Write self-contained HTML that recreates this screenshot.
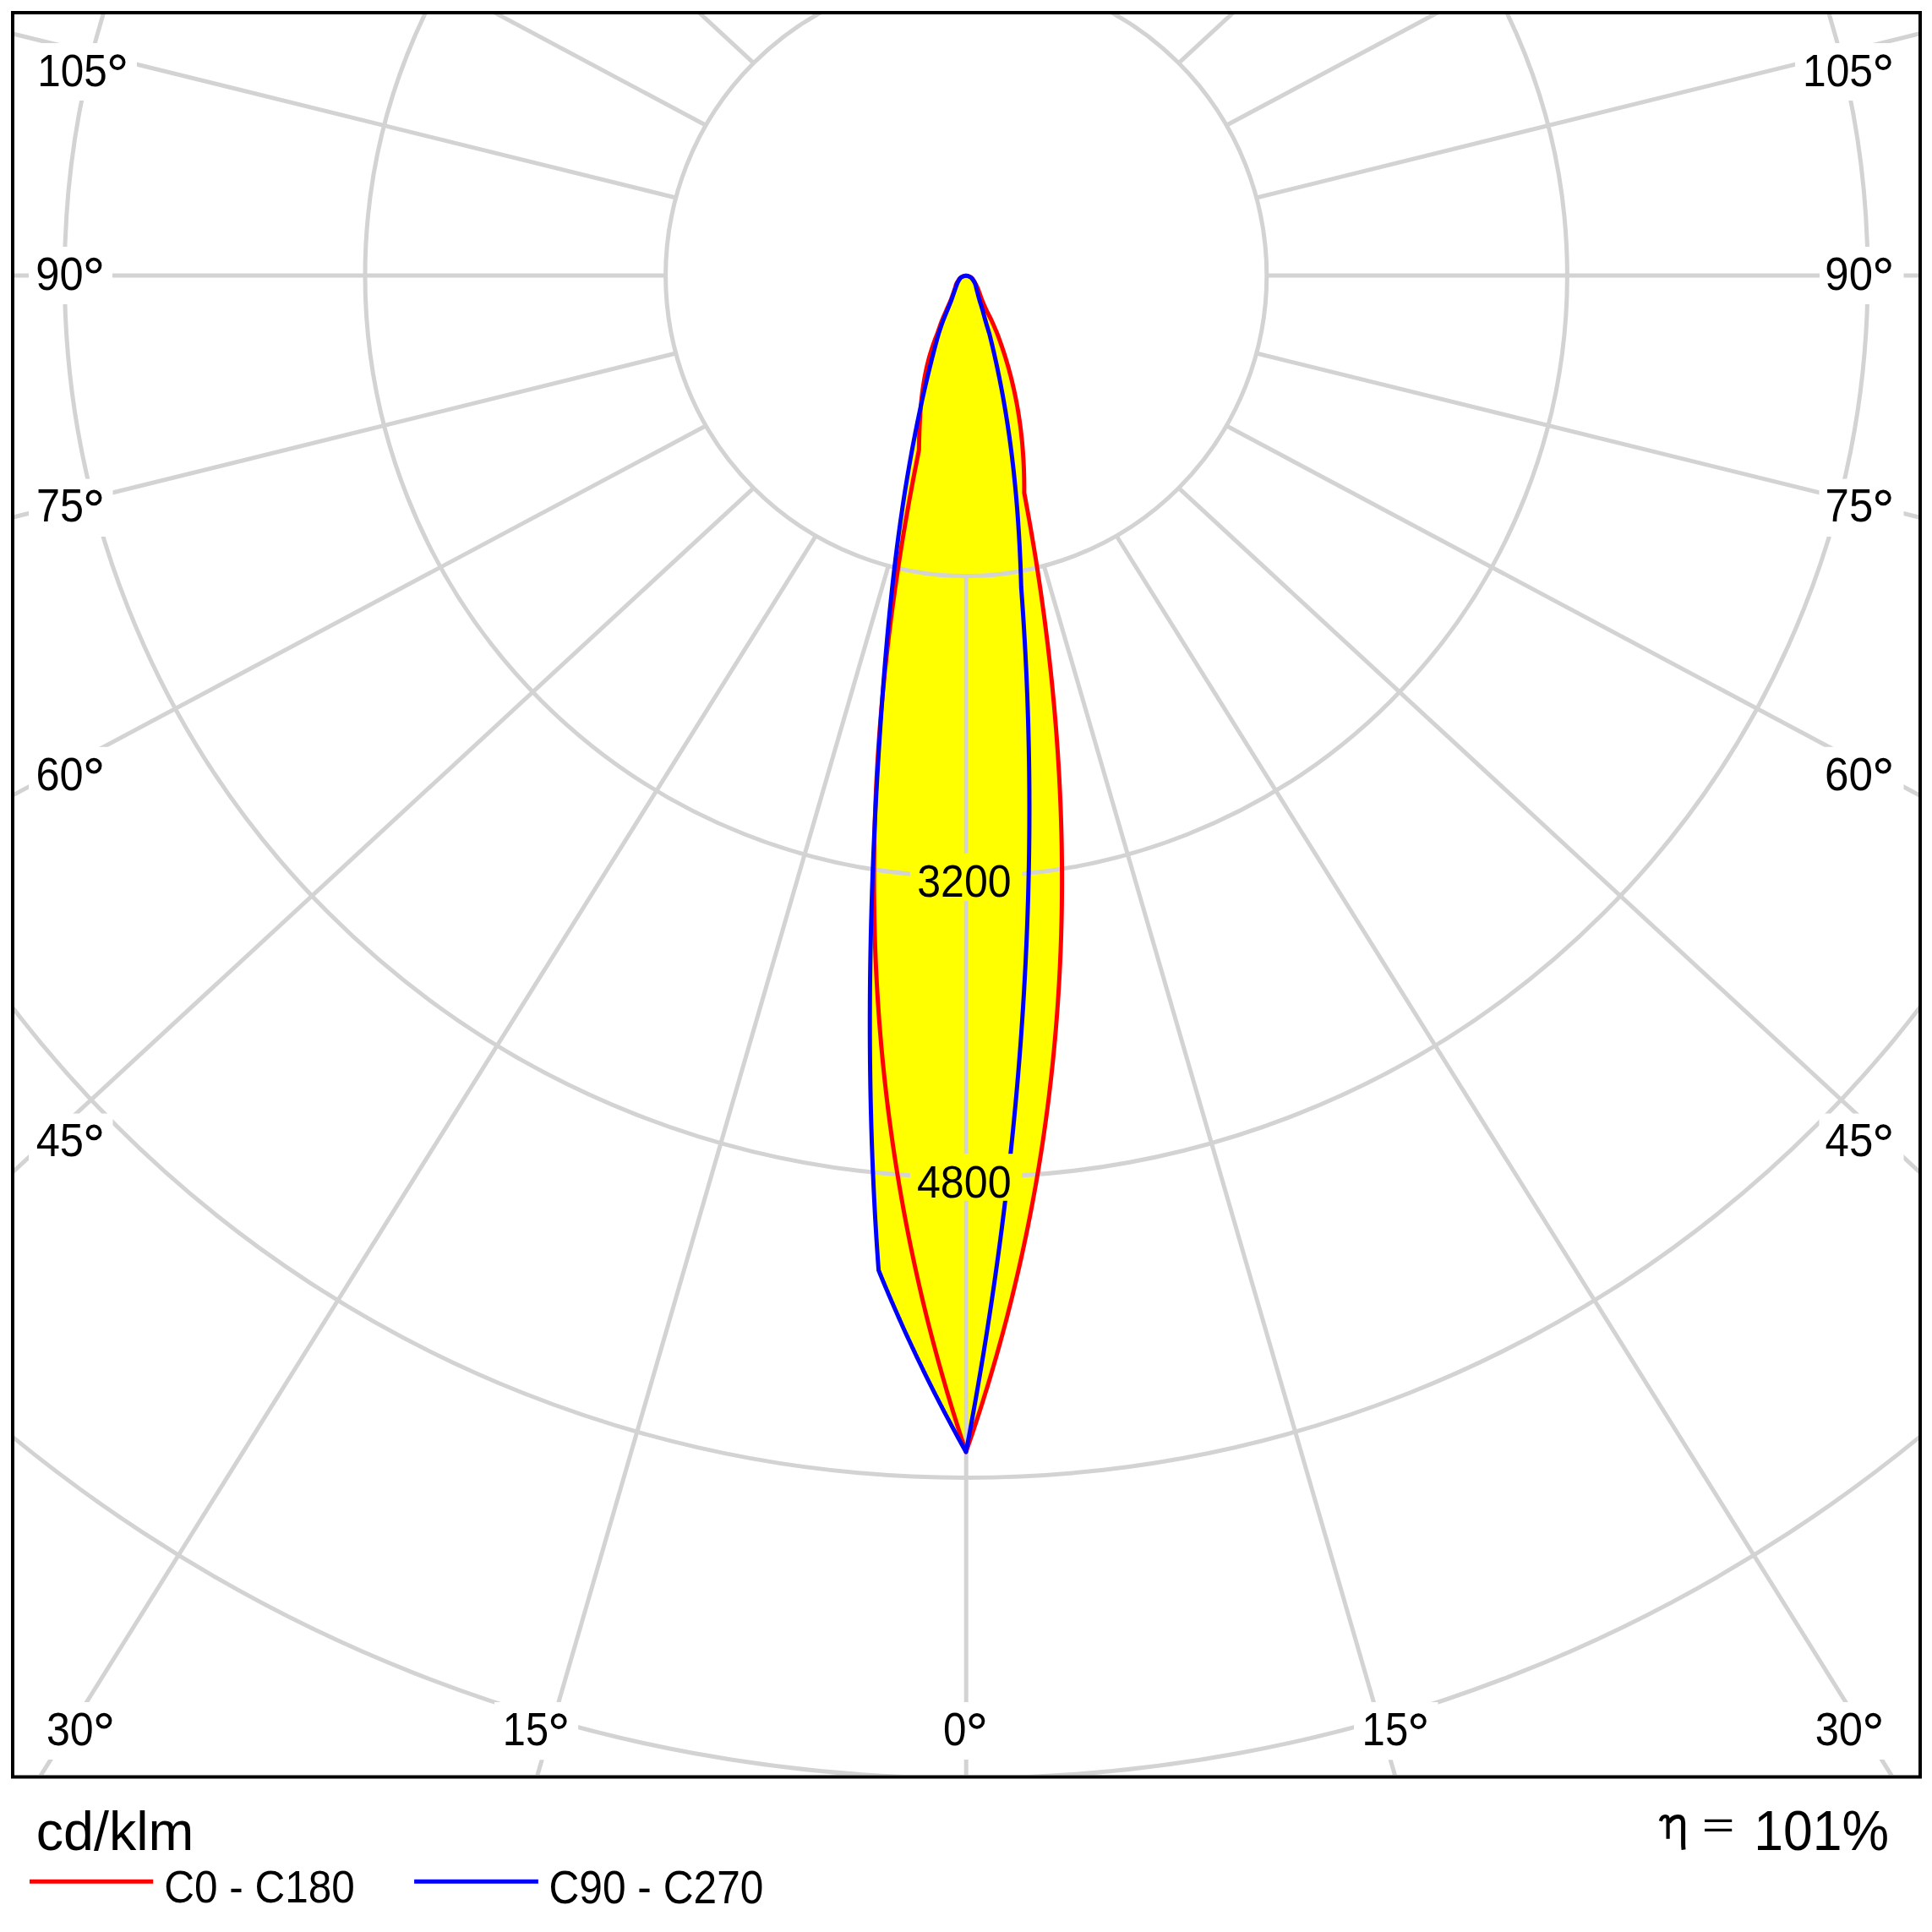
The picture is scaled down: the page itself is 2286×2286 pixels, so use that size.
<!DOCTYPE html>
<html><head><meta charset="utf-8"><style>html,body{margin:0;padding:0;background:#fff}svg{display:block}</style></head>
<body><svg width="2286" height="2286" viewBox="0 0 2286 2286">
<defs>
<clipPath id="plot"><rect x="17" y="17" width="2253" height="2083"/></clipPath>
<mask id="lbl" maskUnits="userSpaceOnUse" x="0" y="0" width="2286" height="2286"><rect x="0" y="0" width="2286" height="2286" fill="#fff"/>
<rect x="34" y="51" width="128" height="68" fill="#000"/>
<rect x="34" y="292" width="99" height="68" fill="#000"/>
<rect x="34" y="566.6" width="99.5" height="68.4" fill="#000"/>
<rect x="34" y="883.8" width="99" height="68" fill="#000"/>
<rect x="34" y="1317.6" width="99.5" height="68" fill="#000"/>
<rect x="2124" y="51" width="128.5" height="68" fill="#000"/>
<rect x="2153" y="292" width="99.5" height="68" fill="#000"/>
<rect x="2152.5" y="566.6" width="100" height="68.4" fill="#000"/>
<rect x="2153" y="883.8" width="99.5" height="68" fill="#000"/>
<rect x="2152.5" y="1317.6" width="100" height="68" fill="#000"/>
<rect x="45" y="2014" width="101" height="68" fill="#000"/>
<rect x="585" y="2014" width="99.2" height="68.3" fill="#000"/>
<rect x="1106" y="2014" width="74" height="68" fill="#000"/>
<rect x="1602" y="2014" width="99.5" height="68.3" fill="#000"/>
<rect x="2140" y="2014" width="101" height="68" fill="#000"/>
<rect x="1076.9" y="1009.7" width="132.6" height="56.3" fill="#000"/>
<rect x="1076.9" y="1365.2" width="132.6" height="55.6" fill="#000"/>
</mask>
</defs>
<rect x="0" y="0" width="2286" height="2286" fill="#fff"/>
<g clip-path="url(#plot)">
<path d="M1143 1718 C1143.47 1716.66 1144.88 1712.63 1145.8 1709.95 C1146.72 1707.27 1147.64 1704.58 1148.55 1701.9 C1149.46 1699.22 1150.37 1696.54 1151.27 1693.86 C1152.17 1691.18 1153.06 1688.49 1153.95 1685.81 C1154.84 1683.13 1155.71 1680.44 1156.59 1677.76 C1157.46 1675.08 1158.34 1672.39 1159.2 1669.71 C1160.06 1667.03 1160.92 1664.34 1161.77 1661.66 C1162.62 1658.98 1163.46 1656.29 1164.3 1653.61 C1165.14 1650.93 1165.97 1648.25 1166.8 1645.57 C1167.63 1642.89 1168.44 1640.2 1169.26 1637.52 C1170.08 1634.84 1170.89 1632.15 1171.69 1629.47 C1172.49 1626.79 1173.28 1624.1 1174.07 1621.42 C1174.86 1618.74 1175.64 1616.05 1176.42 1613.37 C1177.2 1610.69 1177.97 1608 1178.74 1605.32 C1179.51 1602.64 1180.27 1599.96 1181.02 1597.28 C1181.77 1594.6 1182.52 1591.91 1183.26 1589.23 C1184 1586.55 1184.74 1583.86 1185.47 1581.18 C1186.2 1578.5 1186.92 1575.81 1187.64 1573.13 C1188.36 1570.45 1189.07 1567.76 1189.77 1565.08 C1190.47 1562.4 1191.17 1559.72 1191.87 1557.04 C1192.56 1554.36 1193.26 1551.67 1193.94 1548.99 C1194.62 1546.31 1195.3 1543.62 1195.97 1540.94 C1196.64 1538.26 1197.3 1535.57 1197.96 1532.89 C1198.62 1530.21 1199.27 1527.52 1199.92 1524.84 C1200.57 1522.16 1201.2 1519.47 1201.84 1516.79 C1202.47 1514.11 1203.11 1511.43 1203.73 1508.75 C1204.36 1506.07 1204.98 1503.38 1205.59 1500.7 C1206.2 1498.02 1206.81 1495.33 1207.41 1492.65 C1208.01 1489.97 1208.6 1487.28 1209.19 1484.6 C1209.78 1481.92 1210.36 1479.23 1210.94 1476.55 C1211.52 1473.87 1212.09 1471.18 1212.65 1468.5 C1213.22 1465.82 1213.77 1463.14 1214.33 1460.46 C1214.88 1457.78 1215.44 1455.09 1215.98 1452.41 C1216.52 1449.73 1217.06 1447.04 1217.59 1444.36 C1218.12 1441.68 1218.65 1438.99 1219.17 1436.31 C1219.69 1433.63 1220.2 1430.94 1220.71 1428.26 C1221.22 1425.58 1221.72 1422.9 1222.22 1420.22 C1222.72 1417.54 1223.21 1414.85 1223.7 1412.17 C1224.19 1409.49 1224.67 1406.8 1225.14 1404.12 C1225.62 1401.44 1226.09 1398.75 1226.55 1396.07 C1227.01 1393.39 1227.47 1390.7 1227.92 1388.02 C1228.37 1385.34 1228.83 1382.65 1229.27 1379.97 C1229.71 1377.29 1230.14 1374.61 1230.57 1371.93 C1231 1369.25 1231.43 1366.56 1231.85 1363.88 C1232.27 1361.2 1232.68 1358.51 1233.09 1355.83 C1233.5 1353.15 1233.9 1350.46 1234.3 1347.78 C1234.7 1345.1 1235.09 1342.41 1235.47 1339.73 C1235.86 1337.05 1236.23 1334.37 1236.61 1331.69 C1236.98 1329.01 1237.36 1326.32 1237.72 1323.64 C1238.09 1320.96 1238.45 1318.27 1238.8 1315.59 C1239.15 1312.91 1239.5 1310.22 1239.84 1307.54 C1240.18 1304.86 1240.53 1302.17 1240.86 1299.49 C1241.19 1296.81 1241.51 1294.12 1241.83 1291.44 C1242.15 1288.76 1242.47 1286.08 1242.78 1283.4 C1243.09 1280.72 1243.4 1278.03 1243.7 1275.35 C1244 1272.67 1244.29 1269.98 1244.58 1267.3 C1244.87 1264.62 1245.15 1261.93 1245.43 1259.25 C1245.71 1256.57 1245.98 1253.88 1246.25 1251.2 C1246.52 1248.52 1246.77 1245.83 1247.03 1243.15 C1247.29 1240.47 1247.54 1237.79 1247.79 1235.11 C1248.04 1232.43 1248.28 1229.74 1248.51 1227.06 C1248.74 1224.38 1248.98 1221.69 1249.2 1219.01 C1249.42 1216.33 1249.64 1213.64 1249.86 1210.96 C1250.07 1208.28 1250.29 1205.59 1250.49 1202.91 C1250.69 1200.23 1250.89 1197.55 1251.08 1194.87 C1251.27 1192.19 1251.47 1189.5 1251.65 1186.82 C1251.83 1184.14 1252.01 1181.45 1252.18 1178.77 C1252.35 1176.09 1252.53 1173.4 1252.69 1170.72 C1252.85 1168.04 1253.01 1165.35 1253.16 1162.67 C1253.31 1159.99 1253.46 1157.3 1253.6 1154.62 C1253.74 1151.94 1253.88 1149.26 1254.01 1146.58 C1254.14 1143.9 1254.27 1141.21 1254.39 1138.53 C1254.51 1135.85 1254.63 1133.16 1254.74 1130.48 C1254.85 1127.8 1254.96 1125.11 1255.06 1122.43 C1255.16 1119.75 1255.26 1117.06 1255.35 1114.38 C1255.44 1111.7 1255.53 1109.01 1255.61 1106.33 C1255.69 1103.65 1255.76 1100.97 1255.83 1098.29 C1255.9 1095.61 1255.97 1092.92 1256.03 1090.24 C1256.09 1087.56 1256.15 1084.87 1256.2 1082.19 C1256.25 1079.51 1256.3 1076.82 1256.34 1074.14 C1256.38 1071.46 1256.42 1068.77 1256.45 1066.09 C1256.48 1063.41 1256.5 1060.73 1256.52 1058.05 C1256.54 1055.37 1256.56 1052.68 1256.57 1050 C1256.58 1047.32 1256.59 1044.63 1256.59 1041.95 C1256.59 1039.27 1256.59 1036.58 1256.58 1033.9 C1256.57 1031.22 1256.56 1028.53 1256.54 1025.85 C1256.52 1023.17 1256.5 1020.48 1256.47 1017.8 C1256.44 1015.12 1256.41 1012.44 1256.37 1009.76 C1256.33 1007.08 1256.3 1004.39 1256.25 1001.71 C1256.2 999.03 1256.15 996.34 1256.09 993.66 C1256.03 990.98 1255.98 988.29 1255.91 985.61 C1255.84 982.93 1255.77 980.24 1255.69 977.56 C1255.61 974.88 1255.54 972.19 1255.45 969.51 C1255.37 966.83 1255.28 964.15 1255.18 961.47 C1255.09 958.79 1254.99 956.1 1254.88 953.42 C1254.78 950.74 1254.66 948.05 1254.55 945.37 C1254.43 942.69 1254.31 940 1254.19 937.32 C1254.07 934.64 1253.94 931.95 1253.81 929.27 C1253.68 926.59 1253.54 923.91 1253.4 921.23 C1253.26 918.55 1253.11 915.86 1252.96 913.18 C1252.81 910.5 1252.65 907.81 1252.49 905.13 C1252.33 902.45 1252.16 899.76 1251.99 897.08 C1251.82 894.4 1251.65 891.71 1251.47 889.03 C1251.29 886.35 1251.1 883.66 1250.91 880.98 C1250.72 878.3 1250.54 875.62 1250.34 872.94 C1250.14 870.26 1249.94 867.57 1249.73 864.89 C1249.52 862.21 1249.31 859.52 1249.09 856.84 C1248.87 854.16 1248.65 851.47 1248.43 848.79 C1248.21 846.11 1247.97 843.42 1247.74 840.74 C1247.51 838.06 1247.27 835.38 1247.03 832.7 C1246.79 830.02 1246.53 827.33 1246.28 824.65 C1246.03 821.97 1245.77 819.28 1245.51 816.6 C1245.25 813.92 1244.99 811.23 1244.72 808.55 C1244.45 805.87 1244.17 803.18 1243.89 800.5 C1243.61 797.82 1243.33 795.13 1243.04 792.45 C1242.75 789.77 1242.47 787.09 1242.17 784.41 C1241.87 781.73 1241.57 779.04 1241.26 776.36 C1240.95 773.68 1240.65 770.99 1240.34 768.31 C1240.03 765.63 1239.7 762.94 1239.38 760.26 C1239.06 757.58 1238.73 754.89 1238.4 752.21 C1238.07 749.53 1237.73 746.84 1237.39 744.16 C1237.05 741.48 1236.71 738.8 1236.36 736.12 C1236.01 733.44 1235.66 730.75 1235.3 728.07 C1234.94 725.39 1234.58 722.7 1234.21 720.02 C1233.84 717.34 1233.47 714.65 1233.1 711.97 C1232.72 709.29 1232.34 706.6 1231.96 703.92 C1231.58 701.24 1231.19 698.56 1230.8 695.88 C1230.41 693.2 1230.01 690.51 1229.61 687.83 C1229.21 685.15 1228.81 682.46 1228.4 679.78 C1227.99 677.1 1227.58 674.41 1227.16 671.73 C1226.74 669.05 1226.33 666.36 1225.9 663.68 C1225.48 661 1225.04 658.31 1224.61 655.63 C1224.18 652.95 1223.74 650.27 1223.3 647.59 C1222.86 644.91 1222.41 642.22 1221.96 639.54 C1221.51 636.86 1221.06 634.17 1220.6 631.49 C1220.14 628.81 1219.68 626.12 1219.21 623.44 C1218.74 620.76 1218.28 618.07 1217.8 615.39 C1217.32 612.71 1216.84 610.02 1216.36 607.34 C1215.88 604.66 1215.39 601.98 1214.9 599.3 C1214.41 596.62 1213.92 593.93 1213.42 591.25 C1212.92 588.57 1212.15 584.54 1211.9 583.2 C1211.9 581.83 1211.93 577.73 1211.91 575 C1211.89 572.27 1211.86 569.54 1211.81 566.81 C1211.76 564.08 1211.69 561.34 1211.6 558.61 C1211.51 555.88 1211.4 553.15 1211.28 550.42 C1211.15 547.69 1211.01 544.95 1210.85 542.22 C1210.69 539.49 1210.5 536.76 1210.3 534.03 C1210.1 531.3 1209.87 528.56 1209.63 525.83 C1209.39 523.1 1209.12 520.36 1208.84 517.63 C1208.55 514.9 1208.25 512.17 1207.92 509.44 C1207.59 506.71 1207.24 503.97 1206.87 501.24 C1206.5 498.51 1206.1 495.78 1205.68 493.05 C1205.26 490.32 1204.82 487.58 1204.36 484.85 C1203.9 482.12 1203.41 479.39 1202.9 476.66 C1202.39 473.93 1201.86 471.19 1201.3 468.46 C1200.74 465.73 1200.15 463 1199.54 460.27 C1198.93 457.54 1198.31 454.8 1197.65 452.07 C1196.99 449.34 1196.3 446.6 1195.59 443.87 C1194.88 441.14 1194.15 438.41 1193.39 435.68 C1192.63 432.95 1191.84 430.21 1191.02 427.48 C1190.2 424.75 1189.36 422.02 1188.49 419.29 C1187.62 416.56 1186.73 413.82 1185.8 411.09 C1184.87 408.36 1183.91 405.63 1182.93 402.9 C1181.95 400.17 1180.59 396.5 1179.9 394.7 C1179.21 392.9 1179.87 394.6 1178.8 392.1 C1177.73 389.6 1175.42 383.83 1173.5 379.7 C1171.58 375.57 1169.23 371.45 1167.3 367.3 C1165.37 363.15 1163.55 358.95 1161.9 354.8 C1160.25 350.65 1158.6 345.45 1157.4 342.4 C1156.2 339.35 1155.52 338.13 1154.7 336.5 C1153.88 334.87 1153.23 333.77 1152.5 332.6 C1151.77 331.43 1151.12 330.35 1150.3 329.5 C1149.48 328.65 1148.82 328.03 1147.6 327.5 C1146.38 326.97 1144.57 326.3 1143 326.3 C1141.43 326.3 1139.43 326.97 1138.2 327.5 C1136.97 328.03 1136.37 328.65 1135.6 329.5 C1134.83 330.35 1134.28 331.52 1133.6 332.6 C1132.92 333.68 1132.17 334.37 1131.5 336 C1130.83 337.63 1130.67 339.27 1129.6 342.4 C1128.53 345.53 1126.75 350.65 1125.1 354.8 C1123.45 358.95 1121.48 363.15 1119.7 367.3 C1117.92 371.45 1116.02 375.57 1114.4 379.7 C1112.78 383.83 1110.88 389.6 1110 392.1 C1109.12 394.6 1109.78 392.91 1109.1 394.7 C1108.42 396.49 1106.92 400.11 1105.92 402.82 C1104.92 405.53 1103.97 408.24 1103.08 410.95 C1102.18 413.66 1101.35 416.36 1100.55 419.07 C1099.75 421.78 1099.01 424.48 1098.31 427.19 C1097.61 429.9 1096.96 432.61 1096.35 435.32 C1095.74 438.03 1095.17 440.73 1094.64 443.44 C1094.11 446.15 1093.63 448.85 1093.18 451.56 C1092.73 454.27 1092.32 456.98 1091.93 459.69 C1091.55 462.4 1091.19 465.1 1090.87 467.81 C1090.55 470.52 1090.26 473.23 1090 475.94 C1089.74 478.65 1089.5 481.35 1089.29 484.06 C1089.08 486.77 1088.89 489.47 1088.72 492.18 C1088.55 494.89 1088.4 497.6 1088.27 500.31 C1088.14 503.02 1088.02 505.72 1087.92 508.43 C1087.82 511.14 1087.74 513.84 1087.66 516.55 C1087.58 519.26 1087.52 521.97 1087.46 524.68 C1087.4 527.39 1087.33 531.45 1087.3 532.8 C1087.03 534.13 1086.22 538.14 1085.69 540.81 C1085.16 543.48 1084.63 546.15 1084.11 548.82 C1083.58 551.49 1083.06 554.15 1082.54 556.82 C1082.02 559.49 1081.51 562.16 1081 564.83 C1080.49 567.5 1079.99 570.17 1079.49 572.84 C1078.99 575.51 1078.49 578.18 1077.99 580.85 C1077.49 583.52 1077.01 586.19 1076.52 588.86 C1076.03 591.53 1075.56 594.19 1075.08 596.86 C1074.6 599.53 1074.13 602.2 1073.66 604.87 C1073.19 607.54 1072.72 610.21 1072.26 612.88 C1071.8 615.55 1071.34 618.22 1070.88 620.89 C1070.43 623.56 1069.98 626.23 1069.53 628.9 C1069.08 631.57 1068.64 634.24 1068.2 636.91 C1067.76 639.58 1067.33 642.24 1066.9 644.91 C1066.47 647.58 1066.04 650.25 1065.62 652.92 C1065.2 655.59 1064.77 658.26 1064.36 660.93 C1063.94 663.6 1063.54 666.27 1063.13 668.94 C1062.73 671.61 1062.33 674.28 1061.93 676.95 C1061.53 679.62 1061.13 682.28 1060.74 684.95 C1060.35 687.62 1059.97 690.29 1059.59 692.96 C1059.21 695.63 1058.83 698.3 1058.45 700.97 C1058.08 703.64 1057.7 706.31 1057.34 708.98 C1056.97 711.65 1056.62 714.32 1056.26 716.99 C1055.9 719.66 1055.55 722.32 1055.2 724.99 C1054.85 727.66 1054.51 730.33 1054.17 733 C1053.83 735.67 1053.49 738.34 1053.16 741.01 C1052.83 743.68 1052.5 746.35 1052.17 749.02 C1051.85 751.69 1051.53 754.36 1051.21 757.03 C1050.89 759.7 1050.59 762.37 1050.28 765.04 C1049.97 767.71 1049.67 770.37 1049.37 773.04 C1049.07 775.71 1048.78 778.38 1048.49 781.05 C1048.2 783.72 1047.91 786.39 1047.63 789.06 C1047.35 791.73 1047.07 794.4 1046.8 797.07 C1046.53 799.74 1046.26 802.41 1045.99 805.08 C1045.72 807.75 1045.47 810.41 1045.21 813.08 C1044.95 815.75 1044.7 818.42 1044.45 821.09 C1044.2 823.76 1043.96 826.43 1043.72 829.1 C1043.48 831.77 1043.25 834.44 1043.02 837.11 C1042.79 839.78 1042.56 842.45 1042.34 845.12 C1042.12 847.79 1041.9 850.45 1041.69 853.12 C1041.48 855.79 1041.27 858.46 1041.07 861.13 C1040.87 863.8 1040.66 866.47 1040.47 869.14 C1040.28 871.81 1040.09 874.48 1039.9 877.15 C1039.71 879.82 1039.53 882.49 1039.35 885.16 C1039.17 887.83 1039 890.49 1038.83 893.16 C1038.66 895.83 1038.5 898.5 1038.34 901.17 C1038.18 903.84 1038.02 906.51 1037.87 909.18 C1037.72 911.85 1037.57 914.52 1037.43 917.19 C1037.29 919.86 1037.15 922.53 1037.02 925.2 C1036.89 927.87 1036.76 930.54 1036.64 933.21 C1036.52 935.88 1036.39 938.54 1036.28 941.21 C1036.16 943.88 1036.06 946.55 1035.95 949.22 C1035.84 951.89 1035.74 954.56 1035.64 957.23 C1035.54 959.9 1035.46 962.57 1035.37 965.24 C1035.28 967.91 1035.2 970.58 1035.12 973.25 C1035.04 975.92 1034.96 978.58 1034.89 981.25 C1034.82 983.92 1034.76 986.59 1034.7 989.26 C1034.64 991.93 1034.58 994.6 1034.53 997.27 C1034.48 999.94 1034.43 1002.61 1034.39 1005.28 C1034.35 1007.95 1034.31 1010.62 1034.28 1013.29 C1034.25 1015.96 1034.22 1018.62 1034.2 1021.29 C1034.18 1023.96 1034.15 1026.63 1034.14 1029.3 C1034.13 1031.97 1034.12 1034.64 1034.12 1037.31 C1034.12 1039.98 1034.11 1042.65 1034.12 1045.32 C1034.12 1047.99 1034.14 1050.66 1034.15 1053.33 C1034.16 1056 1034.18 1058.67 1034.2 1061.34 C1034.22 1064.01 1034.26 1066.67 1034.29 1069.34 C1034.32 1072.01 1034.36 1074.68 1034.4 1077.35 C1034.44 1080.02 1034.49 1082.69 1034.54 1085.36 C1034.59 1088.03 1034.66 1090.7 1034.72 1093.37 C1034.78 1096.04 1034.85 1098.71 1034.92 1101.38 C1034.99 1104.05 1035.06 1106.71 1035.14 1109.38 C1035.22 1112.05 1035.31 1114.72 1035.4 1117.39 C1035.49 1120.06 1035.59 1122.73 1035.69 1125.4 C1035.79 1128.07 1035.89 1130.74 1036 1133.41 C1036.11 1136.08 1036.23 1138.75 1036.35 1141.42 C1036.47 1144.09 1036.59 1146.75 1036.72 1149.42 C1036.85 1152.09 1036.98 1154.76 1037.12 1157.43 C1037.26 1160.1 1037.41 1162.77 1037.56 1165.44 C1037.71 1168.11 1037.86 1170.78 1038.02 1173.45 C1038.18 1176.12 1038.34 1178.79 1038.51 1181.46 C1038.68 1184.13 1038.85 1186.79 1039.03 1189.46 C1039.21 1192.13 1039.39 1194.8 1039.58 1197.47 C1039.77 1200.14 1039.96 1202.81 1040.16 1205.48 C1040.36 1208.15 1040.56 1210.82 1040.77 1213.49 C1040.98 1216.16 1041.19 1218.83 1041.41 1221.5 C1041.63 1224.17 1041.85 1226.84 1042.08 1229.51 C1042.31 1232.18 1042.54 1234.84 1042.78 1237.51 C1043.02 1240.18 1043.26 1242.85 1043.51 1245.52 C1043.76 1248.19 1044.01 1250.86 1044.27 1253.53 C1044.53 1256.2 1044.79 1258.87 1045.06 1261.54 C1045.33 1264.21 1045.61 1266.88 1045.89 1269.55 C1046.17 1272.22 1046.45 1274.88 1046.74 1277.55 C1047.03 1280.22 1047.32 1282.89 1047.62 1285.56 C1047.92 1288.23 1048.22 1290.9 1048.53 1293.57 C1048.84 1296.24 1049.16 1298.91 1049.48 1301.58 C1049.8 1304.25 1050.12 1306.92 1050.45 1309.59 C1050.78 1312.26 1051.12 1314.92 1051.46 1317.59 C1051.8 1320.26 1052.14 1322.93 1052.49 1325.6 C1052.84 1328.27 1053.2 1330.94 1053.56 1333.61 C1053.92 1336.28 1054.29 1338.95 1054.66 1341.62 C1055.03 1344.29 1055.41 1346.96 1055.79 1349.63 C1056.17 1352.3 1056.56 1354.97 1056.95 1357.64 C1057.34 1360.31 1057.75 1362.97 1058.15 1365.64 C1058.55 1368.31 1058.96 1370.98 1059.37 1373.65 C1059.78 1376.32 1060.21 1378.99 1060.63 1381.66 C1061.06 1384.33 1061.49 1387 1061.92 1389.67 C1062.36 1392.34 1062.8 1395.01 1063.24 1397.68 C1063.68 1400.35 1064.13 1403.01 1064.59 1405.68 C1065.04 1408.35 1065.5 1411.02 1065.97 1413.69 C1066.44 1416.36 1066.91 1419.03 1067.39 1421.7 C1067.87 1424.37 1068.34 1427.04 1068.83 1429.71 C1069.32 1432.38 1069.81 1435.05 1070.31 1437.72 C1070.81 1440.39 1071.31 1443.05 1071.82 1445.72 C1072.33 1448.39 1072.85 1451.06 1073.37 1453.73 C1073.89 1456.4 1074.42 1459.07 1074.95 1461.74 C1075.48 1464.41 1076.01 1467.08 1076.55 1469.75 C1077.09 1472.42 1077.65 1475.09 1078.2 1477.76 C1078.75 1480.43 1079.31 1483.09 1079.87 1485.76 C1080.43 1488.43 1081 1491.1 1081.58 1493.77 C1082.15 1496.44 1082.73 1499.11 1083.32 1501.78 C1083.9 1504.45 1084.49 1507.12 1085.09 1509.79 C1085.69 1512.46 1086.29 1515.13 1086.9 1517.8 C1087.51 1520.47 1088.12 1523.14 1088.74 1525.81 C1089.36 1528.48 1089.98 1531.14 1090.61 1533.81 C1091.24 1536.48 1091.87 1539.15 1092.51 1541.82 C1093.15 1544.49 1093.8 1547.16 1094.45 1549.83 C1095.1 1552.5 1095.76 1555.17 1096.42 1557.84 C1097.08 1560.51 1097.76 1563.18 1098.43 1565.85 C1099.11 1568.52 1099.79 1571.18 1100.47 1573.85 C1101.15 1576.52 1101.84 1579.19 1102.54 1581.86 C1103.24 1584.53 1103.94 1587.2 1104.65 1589.87 C1105.36 1592.54 1106.07 1595.21 1106.79 1597.88 C1107.51 1600.55 1108.23 1603.22 1108.96 1605.89 C1109.69 1608.56 1110.43 1611.22 1111.17 1613.89 C1111.91 1616.56 1112.67 1619.23 1113.42 1621.9 C1114.17 1624.57 1114.93 1627.24 1115.69 1629.91 C1116.45 1632.58 1117.22 1635.25 1118 1637.92 C1118.78 1640.59 1119.56 1643.26 1120.35 1645.93 C1121.14 1648.6 1121.93 1651.27 1122.73 1653.94 C1123.53 1656.61 1124.33 1659.27 1125.14 1661.94 C1125.95 1664.61 1126.77 1667.28 1127.59 1669.95 C1128.41 1672.62 1129.24 1675.29 1130.07 1677.96 C1130.9 1680.63 1131.74 1683.3 1132.59 1685.97 C1133.43 1688.64 1134.28 1691.31 1135.14 1693.98 C1136 1696.65 1136.86 1699.31 1137.73 1701.98 C1138.6 1704.65 1139.48 1707.32 1140.36 1709.99 C1141.24 1712.66 1142.56 1716.66 1143 1718 Z" fill="#ffff00"/>
<path d="M1143 1718 C1143.26 1716.66 1144.02 1712.62 1144.53 1709.94 C1145.04 1707.26 1145.55 1704.58 1146.05 1701.89 C1146.55 1699.21 1147.04 1696.51 1147.54 1693.83 C1148.04 1691.14 1148.54 1688.46 1149.03 1685.78 C1149.52 1683.1 1150.01 1680.4 1150.5 1677.72 C1150.99 1675.04 1151.47 1672.36 1151.95 1669.67 C1152.43 1666.99 1152.91 1664.29 1153.39 1661.61 C1153.87 1658.92 1154.34 1656.24 1154.81 1653.56 C1155.28 1650.88 1155.75 1648.18 1156.22 1645.5 C1156.69 1642.82 1157.15 1640.13 1157.61 1637.45 C1158.07 1634.77 1158.53 1632.08 1158.99 1629.39 C1159.45 1626.71 1159.91 1624.02 1160.36 1621.34 C1160.81 1618.65 1161.26 1615.96 1161.71 1613.28 C1162.16 1610.6 1162.6 1607.91 1163.04 1605.23 C1163.48 1602.55 1163.92 1599.86 1164.36 1597.17 C1164.8 1594.49 1165.23 1591.8 1165.66 1589.12 C1166.09 1586.43 1166.52 1583.74 1166.95 1581.06 C1167.38 1578.38 1167.81 1575.69 1168.23 1573.01 C1168.65 1570.33 1169.06 1567.63 1169.48 1564.95 C1169.9 1562.27 1170.32 1559.59 1170.73 1556.9 C1171.14 1554.22 1171.55 1551.52 1171.96 1548.84 C1172.37 1546.15 1172.77 1543.47 1173.17 1540.79 C1173.57 1538.11 1173.97 1535.41 1174.37 1532.73 C1174.77 1530.05 1175.16 1527.37 1175.55 1524.68 C1175.94 1522 1176.33 1519.3 1176.71 1516.62 C1177.1 1513.93 1177.48 1511.25 1177.86 1508.57 C1178.24 1505.88 1178.62 1503.19 1179 1500.51 C1179.38 1497.83 1179.75 1495.14 1180.12 1492.46 C1180.49 1489.78 1180.87 1487.09 1181.23 1484.4 C1181.6 1481.72 1181.95 1479.03 1182.31 1476.35 C1182.67 1473.66 1183.04 1470.97 1183.39 1468.29 C1183.75 1465.61 1184.09 1462.92 1184.44 1460.24 C1184.79 1457.56 1185.14 1454.87 1185.49 1452.18 C1185.84 1449.5 1186.17 1446.82 1186.51 1444.13 C1186.85 1441.45 1187.18 1438.75 1187.52 1436.07 C1187.86 1433.38 1188.19 1430.7 1188.52 1428.02 C1188.85 1425.34 1189.18 1422.64 1189.5 1419.96 C1189.82 1417.28 1190.14 1414.6 1190.46 1411.91 C1190.78 1409.23 1191.1 1406.53 1191.41 1403.85 C1191.72 1401.16 1192.03 1398.48 1192.34 1395.8 C1192.65 1393.12 1192.95 1390.42 1193.25 1387.74 C1193.55 1385.06 1193.85 1382.38 1194.15 1379.69 C1194.45 1377.01 1194.75 1374.32 1195.04 1371.63 C1195.33 1368.94 1195.62 1366.25 1195.9 1363.57 C1196.19 1360.88 1196.47 1358.2 1196.75 1355.52 C1197.03 1352.84 1197.31 1350.14 1197.59 1347.46 C1197.87 1344.78 1198.14 1342.1 1198.41 1339.41 C1198.68 1336.73 1198.95 1334.03 1199.21 1331.35 C1199.47 1328.66 1199.74 1325.98 1200 1323.3 C1200.26 1320.62 1200.52 1317.92 1200.77 1315.24 C1201.02 1312.56 1201.27 1309.88 1201.52 1307.19 C1201.77 1304.51 1202.02 1301.82 1202.26 1299.13 C1202.5 1296.45 1202.74 1293.76 1202.98 1291.08 C1203.22 1288.39 1203.46 1285.7 1203.69 1283.02 C1203.92 1280.34 1204.14 1277.65 1204.37 1274.97 C1204.6 1272.29 1204.83 1269.6 1205.05 1266.91 C1205.27 1264.23 1205.49 1261.54 1205.7 1258.86 C1205.91 1256.17 1206.13 1253.48 1206.34 1250.8 C1206.55 1248.12 1206.76 1245.43 1206.96 1242.75 C1207.16 1240.07 1207.37 1237.38 1207.57 1234.69 C1207.77 1232.01 1207.97 1229.33 1208.16 1226.64 C1208.35 1223.96 1208.54 1221.26 1208.73 1218.58 C1208.92 1215.89 1209.1 1213.21 1209.28 1210.53 C1209.46 1207.85 1209.64 1205.15 1209.82 1202.47 C1210 1199.79 1210.18 1197.11 1210.35 1194.42 C1210.52 1191.74 1210.68 1189.04 1210.85 1186.36 C1211.01 1183.67 1211.18 1180.99 1211.34 1178.31 C1211.5 1175.62 1211.66 1172.93 1211.81 1170.25 C1211.96 1167.57 1212.11 1164.88 1212.26 1162.2 C1212.41 1159.52 1212.56 1156.83 1212.7 1154.14 C1212.84 1151.46 1212.98 1148.77 1213.12 1146.09 C1213.26 1143.4 1213.4 1140.71 1213.53 1138.03 C1213.66 1135.35 1213.79 1132.66 1213.91 1129.98 C1214.04 1127.3 1214.16 1124.61 1214.28 1121.92 C1214.4 1119.24 1214.52 1116.55 1214.63 1113.87 C1214.75 1111.18 1214.86 1108.49 1214.97 1105.81 C1215.08 1103.12 1215.18 1100.44 1215.28 1097.76 C1215.38 1095.08 1215.48 1092.38 1215.58 1089.7 C1215.68 1087.02 1215.78 1084.34 1215.87 1081.65 C1215.96 1078.97 1216.05 1076.27 1216.13 1073.59 C1216.22 1070.9 1216.3 1068.22 1216.38 1065.54 C1216.46 1062.86 1216.54 1060.16 1216.61 1057.48 C1216.68 1054.8 1216.75 1052.12 1216.82 1049.43 C1216.89 1046.75 1216.96 1044.06 1217.02 1041.37 C1217.08 1038.68 1217.14 1035.99 1217.2 1033.31 C1217.26 1030.62 1217.31 1027.94 1217.36 1025.26 C1217.41 1022.58 1217.46 1019.88 1217.5 1017.2 C1217.54 1014.52 1217.58 1011.84 1217.62 1009.15 C1217.66 1006.46 1217.7 1003.78 1217.73 1001.09 C1217.76 998.4 1217.79 995.72 1217.82 993.04 C1217.85 990.36 1217.87 987.66 1217.89 984.98 C1217.91 982.3 1217.93 979.62 1217.95 976.93 C1217.97 974.24 1217.97 971.55 1217.98 968.87 C1217.99 966.19 1218 963.51 1218 960.82 C1218 958.13 1218 955.44 1218 952.76 C1218 950.08 1217.99 947.39 1217.98 944.71 C1217.97 942.03 1217.97 939.34 1217.95 936.65 C1217.93 933.96 1217.91 931.29 1217.89 928.6 C1217.87 925.91 1217.85 923.22 1217.82 920.54 C1217.79 917.86 1217.76 915.17 1217.73 912.49 C1217.7 909.81 1217.66 907.12 1217.62 904.43 C1217.58 901.74 1217.55 899.06 1217.5 896.38 C1217.45 893.7 1217.4 891.01 1217.35 888.32 C1217.3 885.63 1217.25 882.95 1217.19 880.27 C1217.13 877.59 1217.07 874.89 1217.01 872.21 C1216.95 869.53 1216.88 866.85 1216.81 864.16 C1216.74 861.47 1216.67 858.79 1216.59 856.1 C1216.51 853.41 1216.43 850.73 1216.35 848.05 C1216.27 845.37 1216.19 842.67 1216.1 839.99 C1216.01 837.31 1215.91 834.62 1215.82 831.94 C1215.72 829.26 1215.63 826.57 1215.53 823.88 C1215.43 821.19 1215.33 818.52 1215.22 815.83 C1215.11 813.14 1215 810.45 1214.89 807.77 C1214.78 805.09 1214.66 802.4 1214.54 799.72 C1214.42 797.04 1214.31 794.35 1214.18 791.66 C1214.06 788.97 1213.92 786.3 1213.79 783.61 C1213.66 780.92 1213.53 778.23 1213.39 775.55 C1213.25 772.87 1213.12 770.18 1212.97 767.5 C1212.83 764.82 1212.67 762.12 1212.52 759.44 C1212.37 756.76 1212.22 754.08 1212.06 751.39 C1211.9 748.7 1211.74 746.02 1211.58 743.33 C1211.42 740.64 1211.26 737.96 1211.09 735.28 C1210.92 732.6 1210.75 729.9 1210.57 727.22 C1210.39 724.54 1210.21 721.86 1210.03 719.17 C1209.85 716.48 1209.67 713.8 1209.48 711.11 C1209.29 708.42 1209.1 705.74 1208.9 703.06 C1208.7 700.38 1208.4 696.34 1208.3 695 C1208.26 693.65 1208.15 689.59 1208.07 686.88 C1207.99 684.17 1207.9 681.48 1207.81 678.77 C1207.72 676.06 1207.62 673.36 1207.51 670.65 C1207.4 667.94 1207.3 665.25 1207.18 662.54 C1207.06 659.83 1206.94 657.13 1206.81 654.42 C1206.68 651.71 1206.55 649 1206.41 646.3 C1206.27 643.6 1206.12 640.89 1205.97 638.19 C1205.82 635.49 1205.65 632.78 1205.49 630.07 C1205.33 627.36 1205.16 624.66 1204.98 621.95 C1204.8 619.25 1204.61 616.55 1204.42 613.84 C1204.23 611.13 1204.03 608.43 1203.83 605.72 C1203.62 603.01 1203.41 600.32 1203.19 597.61 C1202.97 594.9 1202.74 592.2 1202.51 589.49 C1202.28 586.78 1202.03 584.08 1201.78 581.37 C1201.53 578.66 1201.28 575.97 1201.01 573.26 C1200.74 570.55 1200.47 567.85 1200.19 565.14 C1199.91 562.43 1199.62 559.73 1199.33 557.02 C1199.03 554.31 1198.73 551.62 1198.42 548.91 C1198.11 546.2 1197.78 543.5 1197.45 540.79 C1197.12 538.08 1196.79 535.38 1196.44 532.68 C1196.1 529.97 1195.74 527.27 1195.38 524.56 C1195.02 521.85 1194.65 519.15 1194.27 516.44 C1193.89 513.74 1193.5 511.03 1193.1 508.33 C1192.7 505.62 1192.3 502.92 1191.88 500.21 C1191.46 497.5 1191.03 494.79 1190.6 492.09 C1190.16 489.38 1189.72 486.69 1189.27 483.98 C1188.82 481.28 1188.35 478.56 1187.88 475.86 C1187.41 473.16 1186.92 470.45 1186.43 467.75 C1185.94 465.05 1185.43 462.34 1184.92 459.63 C1184.41 456.92 1183.88 454.21 1183.35 451.51 C1182.82 448.81 1182.27 446.1 1181.72 443.4 C1181.17 440.69 1180.6 437.99 1180.03 435.28 C1179.46 432.57 1178.88 429.87 1178.28 427.16 C1177.68 424.46 1177.08 421.75 1176.46 419.05 C1175.84 416.35 1175.21 413.63 1174.57 410.93 C1173.93 408.23 1173.28 405.52 1172.62 402.82 C1171.96 400.12 1171.07 396.49 1170.6 394.7 C1170.13 392.91 1170.55 394.6 1169.8 392.1 C1169.05 389.6 1167.28 383.83 1166.1 379.7 C1164.92 375.57 1163.9 371.45 1162.7 367.3 C1161.5 363.15 1160.08 358.95 1158.9 354.8 C1157.72 350.65 1156.43 345.53 1155.6 342.4 C1154.77 339.27 1154.48 337.63 1153.9 336 C1153.32 334.37 1152.73 333.68 1152.1 332.6 C1151.47 331.52 1150.85 330.35 1150.1 329.5 C1149.35 328.65 1148.78 328.03 1147.6 327.5 C1146.42 326.97 1144.53 326.3 1143 326.3 C1141.47 326.3 1139.58 326.97 1138.4 327.5 C1137.22 328.03 1136.63 328.65 1135.9 329.5 C1135.17 330.35 1134.58 331.52 1134 332.6 C1133.42 333.68 1133.05 334.37 1132.4 336 C1131.75 337.63 1131.2 339.27 1130.1 342.4 C1129 345.53 1127.35 350.65 1125.8 354.8 C1124.25 358.95 1122.47 363.15 1120.8 367.3 C1119.13 371.45 1117.35 375.57 1115.8 379.7 C1114.25 383.83 1112.37 389.6 1111.5 392.1 C1110.63 394.6 1111.12 392.93 1110.6 394.7 C1110.08 396.47 1109.12 400.05 1108.39 402.73 C1107.67 405.41 1106.95 408.08 1106.25 410.76 C1105.55 413.44 1104.85 416.11 1104.16 418.79 C1103.47 421.47 1102.78 424.14 1102.11 426.82 C1101.43 429.5 1100.77 432.18 1100.11 434.86 C1099.45 437.54 1098.81 440.21 1098.16 442.89 C1097.52 445.57 1096.87 448.24 1096.24 450.92 C1095.61 453.6 1094.98 456.27 1094.37 458.95 C1093.75 461.63 1093.15 464.3 1092.55 466.98 C1091.95 469.66 1091.35 472.33 1090.76 475.01 C1090.17 477.69 1089.59 480.36 1089.02 483.04 C1088.45 485.72 1087.88 488.39 1087.32 491.07 C1086.76 493.75 1086.21 496.43 1085.66 499.11 C1085.11 501.79 1084.57 504.46 1084.03 507.14 C1083.49 509.82 1082.97 512.49 1082.45 515.17 C1081.93 517.85 1081.41 520.52 1080.9 523.2 C1080.39 525.88 1079.89 528.55 1079.39 531.23 C1078.89 533.91 1078.4 536.58 1077.92 539.26 C1077.44 541.94 1076.96 544.61 1076.49 547.29 C1076.02 549.97 1075.55 552.64 1075.09 555.32 C1074.63 558 1074.17 560.67 1073.72 563.35 C1073.27 566.03 1072.83 568.71 1072.39 571.39 C1071.95 574.07 1071.52 576.74 1071.09 579.42 C1070.66 582.1 1070.24 584.77 1069.82 587.45 C1069.4 590.13 1068.99 592.8 1068.59 595.48 C1068.18 598.16 1067.79 600.83 1067.39 603.51 C1067 606.19 1066.61 608.86 1066.22 611.54 C1065.84 614.22 1065.45 616.89 1065.08 619.57 C1064.7 622.25 1064.34 624.92 1063.97 627.6 C1063.61 630.28 1063.25 632.95 1062.89 635.63 C1062.53 638.31 1062.18 640.99 1061.83 643.67 C1061.48 646.35 1061.14 649.02 1060.8 651.7 C1060.46 654.38 1060.13 657.05 1059.8 659.73 C1059.47 662.41 1059.15 665.08 1058.83 667.76 C1058.51 670.44 1058.19 673.11 1057.88 675.79 C1057.57 678.47 1057.26 681.14 1056.96 683.82 C1056.66 686.5 1056.36 689.17 1056.06 691.85 C1055.76 694.53 1055.48 697.2 1055.19 699.88 C1054.9 702.56 1054.61 705.24 1054.33 707.92 C1054.05 710.6 1053.77 713.27 1053.5 715.95 C1053.23 718.63 1052.95 721.3 1052.69 723.98 C1052.43 726.66 1052.17 729.33 1051.91 732.01 C1051.65 734.69 1051.39 737.36 1051.14 740.04 C1050.89 742.72 1050.64 745.39 1050.39 748.07 C1050.14 750.75 1049.9 753.42 1049.66 756.1 C1049.42 758.78 1049.18 761.45 1048.95 764.13 C1048.72 766.81 1048.49 769.48 1048.26 772.16 C1048.03 774.84 1047.8 777.52 1047.58 780.2 C1047.36 782.88 1047.14 785.55 1046.92 788.23 C1046.7 790.91 1046.49 793.58 1046.28 796.26 C1046.07 798.94 1045.86 801.61 1045.65 804.29 C1045.44 806.97 1045.24 809.64 1045.04 812.32 C1044.84 815 1044.64 817.67 1044.44 820.35 C1044.24 823.03 1044.04 825.7 1043.85 828.38 C1043.65 831.06 1043.46 833.73 1043.27 836.41 C1043.08 839.09 1042.89 841.76 1042.71 844.44 C1042.53 847.12 1042.34 849.8 1042.16 852.48 C1041.98 855.16 1041.79 857.83 1041.61 860.51 C1041.43 863.19 1041.25 865.86 1041.08 868.54 C1040.9 871.22 1040.73 873.89 1040.56 876.57 C1040.39 879.25 1040.22 881.92 1040.05 884.6 C1039.88 887.28 1039.71 889.95 1039.55 892.63 C1039.38 895.31 1039.22 897.98 1039.06 900.66 C1038.9 903.34 1038.74 906.01 1038.58 908.69 C1038.42 911.37 1038.26 914.05 1038.11 916.73 C1037.95 919.41 1037.8 922.08 1037.65 924.76 C1037.5 927.44 1037.35 930.11 1037.2 932.79 C1037.05 935.47 1036.91 938.14 1036.77 940.82 C1036.63 943.5 1036.48 946.17 1036.34 948.85 C1036.2 951.53 1036.07 954.2 1035.93 956.88 C1035.8 959.56 1035.66 962.23 1035.53 964.91 C1035.4 967.59 1035.27 970.26 1035.14 972.94 C1035.01 975.62 1034.88 978.29 1034.76 980.97 C1034.63 983.65 1034.51 986.33 1034.39 989.01 C1034.27 991.69 1034.16 994.36 1034.04 997.04 C1033.92 999.72 1033.8 1002.39 1033.69 1005.07 C1033.58 1007.75 1033.47 1010.42 1033.36 1013.1 C1033.25 1015.78 1033.14 1018.45 1033.04 1021.13 C1032.93 1023.81 1032.83 1026.48 1032.73 1029.16 C1032.63 1031.84 1032.54 1034.51 1032.44 1037.19 C1032.34 1039.87 1032.24 1042.54 1032.15 1045.22 C1032.06 1047.9 1031.97 1050.58 1031.88 1053.26 C1031.79 1055.94 1031.71 1058.61 1031.63 1061.29 C1031.55 1063.97 1031.46 1066.64 1031.38 1069.32 C1031.3 1072 1031.23 1074.67 1031.15 1077.35 C1031.08 1080.03 1031 1082.7 1030.93 1085.38 C1030.86 1088.06 1030.79 1090.73 1030.72 1093.41 C1030.65 1096.09 1030.59 1098.76 1030.53 1101.44 C1030.47 1104.12 1030.41 1106.79 1030.35 1109.47 C1030.29 1112.15 1030.23 1114.82 1030.18 1117.5 C1030.13 1120.18 1030.08 1122.86 1030.03 1125.54 C1029.98 1128.22 1029.94 1130.89 1029.89 1133.57 C1029.85 1136.25 1029.8 1138.92 1029.76 1141.6 C1029.72 1144.28 1029.69 1146.95 1029.65 1149.63 C1029.62 1152.31 1029.58 1154.98 1029.55 1157.66 C1029.52 1160.34 1029.49 1163.01 1029.46 1165.69 C1029.43 1168.37 1029.41 1171.04 1029.39 1173.72 C1029.37 1176.4 1029.35 1179.07 1029.33 1181.75 C1029.31 1184.43 1029.3 1187.1 1029.29 1189.78 C1029.28 1192.46 1029.27 1195.14 1029.26 1197.82 C1029.25 1200.5 1029.24 1203.17 1029.24 1205.85 C1029.24 1208.53 1029.24 1211.2 1029.24 1213.88 C1029.24 1216.56 1029.24 1219.23 1029.25 1221.91 C1029.26 1224.59 1029.27 1227.26 1029.28 1229.94 C1029.29 1232.62 1029.3 1235.29 1029.32 1237.97 C1029.34 1240.65 1029.36 1243.32 1029.38 1246 C1029.4 1248.68 1029.42 1251.35 1029.45 1254.03 C1029.48 1256.71 1029.51 1259.39 1029.54 1262.07 C1029.57 1264.75 1029.6 1267.42 1029.64 1270.1 C1029.68 1272.78 1029.72 1275.45 1029.76 1278.13 C1029.8 1280.81 1029.84 1283.48 1029.89 1286.16 C1029.94 1288.84 1029.99 1291.51 1030.04 1294.19 C1030.09 1296.87 1030.14 1299.54 1030.2 1302.22 C1030.26 1304.9 1030.32 1307.57 1030.38 1310.25 C1030.44 1312.93 1030.51 1315.6 1030.58 1318.28 C1030.65 1320.96 1030.72 1323.63 1030.79 1326.31 C1030.86 1328.99 1030.93 1331.67 1031.01 1334.35 C1031.09 1337.03 1031.18 1339.7 1031.26 1342.38 C1031.34 1345.06 1031.42 1347.73 1031.51 1350.41 C1031.6 1353.09 1031.69 1355.76 1031.79 1358.44 C1031.88 1361.12 1031.98 1363.79 1032.08 1366.47 C1032.18 1369.15 1032.29 1371.82 1032.39 1374.5 C1032.5 1377.18 1032.6 1379.85 1032.71 1382.53 C1032.82 1385.21 1032.93 1387.88 1033.05 1390.56 C1033.17 1393.24 1033.29 1395.91 1033.41 1398.59 C1033.53 1401.27 1033.65 1403.95 1033.78 1406.63 C1033.91 1409.31 1034.04 1411.98 1034.17 1414.66 C1034.3 1417.34 1034.44 1420.01 1034.58 1422.69 C1034.72 1425.37 1034.86 1428.04 1035 1430.72 C1035.14 1433.4 1035.29 1436.07 1035.44 1438.75 C1035.59 1441.43 1035.74 1444.1 1035.9 1446.78 C1036.06 1449.46 1036.22 1452.13 1036.38 1454.81 C1036.54 1457.49 1036.7 1460.16 1036.87 1462.84 C1037.04 1465.52 1037.21 1468.2 1037.38 1470.88 C1037.55 1473.56 1037.73 1476.23 1037.91 1478.91 C1038.09 1481.59 1038.27 1484.26 1038.45 1486.94 C1038.63 1489.62 1038.83 1492.29 1039.02 1494.97 C1039.21 1497.65 1039.5 1501.66 1039.6 1503 C1040.16 1504.38 1041.85 1508.51 1042.98 1511.27 C1044.12 1514.03 1045.26 1516.78 1046.41 1519.54 C1047.56 1522.3 1048.72 1525.05 1049.89 1527.81 C1051.06 1530.57 1052.23 1533.32 1053.41 1536.08 C1054.59 1538.84 1055.78 1541.59 1056.98 1544.35 C1058.18 1547.11 1059.38 1549.86 1060.59 1552.62 C1061.8 1555.38 1063.02 1558.12 1064.25 1560.88 C1065.48 1563.64 1066.72 1566.39 1067.96 1569.15 C1069.2 1571.91 1070.45 1574.66 1071.71 1577.42 C1072.97 1580.18 1074.24 1582.93 1075.51 1585.69 C1076.78 1588.45 1078.07 1591.2 1079.36 1593.96 C1080.65 1596.72 1081.95 1599.47 1083.26 1602.23 C1084.57 1604.99 1085.89 1607.74 1087.21 1610.5 C1088.53 1613.26 1089.86 1616.01 1091.2 1618.77 C1092.54 1621.53 1093.88 1624.28 1095.24 1627.04 C1096.6 1629.8 1097.97 1632.55 1099.34 1635.31 C1100.71 1638.07 1102.09 1640.82 1103.48 1643.58 C1104.87 1646.34 1106.27 1649.09 1107.67 1651.85 C1109.08 1654.61 1110.49 1657.36 1111.91 1660.12 C1113.33 1662.88 1114.76 1665.62 1116.2 1668.38 C1117.64 1671.14 1119.09 1673.89 1120.54 1676.65 C1121.99 1679.41 1123.46 1682.16 1124.93 1684.92 C1126.4 1687.68 1127.88 1690.43 1129.37 1693.19 C1130.86 1695.95 1132.35 1698.7 1133.86 1701.46 C1135.37 1704.22 1136.89 1706.97 1138.41 1709.73 C1139.93 1712.49 1142.24 1716.62 1143 1718 Z" fill="#ffff00"/>
<g mask="url(#lbl)">
<g stroke="#d3d3d3" stroke-width="5" fill="none">
<circle cx="1143.2" cy="326" r="355.6"/>
<circle cx="1143.2" cy="326" r="711.2"/>
<circle cx="1143.2" cy="326" r="1066.8"/>
<circle cx="1143.2" cy="326" r="1422.4"/>
<circle cx="1143.2" cy="326" r="1778"/>
<line x1="1143.2" y1="681.6" x2="1143.2" y2="4681.6"/>
<line x1="1051.16" y1="669.48" x2="-63.6" y2="4511.01"/>
<line x1="1235.24" y1="669.48" x2="2350" y2="4511.01"/>
<line x1="965.4" y1="633.96" x2="-1155.26" y2="4025.54"/>
<line x1="1321" y1="633.96" x2="3441.66" y2="4025.54"/>
<line x1="891.75" y1="577.45" x2="-2047.04" y2="3291.02"/>
<line x1="1394.65" y1="577.45" x2="4333.44" y2="3291.02"/>
<line x1="835.24" y1="503.8" x2="-2694.51" y2="2385.52"/>
<line x1="1451.16" y1="503.8" x2="4980.91" y2="2385.52"/>
<line x1="799.72" y1="418.04" x2="-3083.2" y2="1378.72"/>
<line x1="1486.68" y1="418.04" x2="5369.6" y2="1378.72"/>
<line x1="787.6" y1="326" x2="-3212.4" y2="326"/>
<line x1="1498.8" y1="326" x2="5498.8" y2="326"/>
<line x1="799.72" y1="233.96" x2="-3083.2" y2="-726.72"/>
<line x1="1486.68" y1="233.96" x2="5369.6" y2="-726.72"/>
<line x1="835.24" y1="148.2" x2="-2694.51" y2="-1733.52"/>
<line x1="1451.16" y1="148.2" x2="4980.91" y2="-1733.52"/>
<line x1="891.75" y1="74.55" x2="-2047.04" y2="-2639.02"/>
<line x1="1394.65" y1="74.55" x2="4333.44" y2="-2639.02"/>
</g>
<path d="M1143 1718 C1143.47 1716.66 1144.88 1712.63 1145.8 1709.95 C1146.72 1707.27 1147.64 1704.58 1148.55 1701.9 C1149.46 1699.22 1150.37 1696.54 1151.27 1693.86 C1152.17 1691.18 1153.06 1688.49 1153.95 1685.81 C1154.84 1683.13 1155.71 1680.44 1156.59 1677.76 C1157.46 1675.08 1158.34 1672.39 1159.2 1669.71 C1160.06 1667.03 1160.92 1664.34 1161.77 1661.66 C1162.62 1658.98 1163.46 1656.29 1164.3 1653.61 C1165.14 1650.93 1165.97 1648.25 1166.8 1645.57 C1167.63 1642.89 1168.44 1640.2 1169.26 1637.52 C1170.08 1634.84 1170.89 1632.15 1171.69 1629.47 C1172.49 1626.79 1173.28 1624.1 1174.07 1621.42 C1174.86 1618.74 1175.64 1616.05 1176.42 1613.37 C1177.2 1610.69 1177.97 1608 1178.74 1605.32 C1179.51 1602.64 1180.27 1599.96 1181.02 1597.28 C1181.77 1594.6 1182.52 1591.91 1183.26 1589.23 C1184 1586.55 1184.74 1583.86 1185.47 1581.18 C1186.2 1578.5 1186.92 1575.81 1187.64 1573.13 C1188.36 1570.45 1189.07 1567.76 1189.77 1565.08 C1190.47 1562.4 1191.17 1559.72 1191.87 1557.04 C1192.56 1554.36 1193.26 1551.67 1193.94 1548.99 C1194.62 1546.31 1195.3 1543.62 1195.97 1540.94 C1196.64 1538.26 1197.3 1535.57 1197.96 1532.89 C1198.62 1530.21 1199.27 1527.52 1199.92 1524.84 C1200.57 1522.16 1201.2 1519.47 1201.84 1516.79 C1202.47 1514.11 1203.11 1511.43 1203.73 1508.75 C1204.36 1506.07 1204.98 1503.38 1205.59 1500.7 C1206.2 1498.02 1206.81 1495.33 1207.41 1492.65 C1208.01 1489.97 1208.6 1487.28 1209.19 1484.6 C1209.78 1481.92 1210.36 1479.23 1210.94 1476.55 C1211.52 1473.87 1212.09 1471.18 1212.65 1468.5 C1213.22 1465.82 1213.77 1463.14 1214.33 1460.46 C1214.88 1457.78 1215.44 1455.09 1215.98 1452.41 C1216.52 1449.73 1217.06 1447.04 1217.59 1444.36 C1218.12 1441.68 1218.65 1438.99 1219.17 1436.31 C1219.69 1433.63 1220.2 1430.94 1220.71 1428.26 C1221.22 1425.58 1221.72 1422.9 1222.22 1420.22 C1222.72 1417.54 1223.21 1414.85 1223.7 1412.17 C1224.19 1409.49 1224.67 1406.8 1225.14 1404.12 C1225.62 1401.44 1226.09 1398.75 1226.55 1396.07 C1227.01 1393.39 1227.47 1390.7 1227.92 1388.02 C1228.37 1385.34 1228.83 1382.65 1229.27 1379.97 C1229.71 1377.29 1230.14 1374.61 1230.57 1371.93 C1231 1369.25 1231.43 1366.56 1231.85 1363.88 C1232.27 1361.2 1232.68 1358.51 1233.09 1355.83 C1233.5 1353.15 1233.9 1350.46 1234.3 1347.78 C1234.7 1345.1 1235.09 1342.41 1235.47 1339.73 C1235.86 1337.05 1236.23 1334.37 1236.61 1331.69 C1236.98 1329.01 1237.36 1326.32 1237.72 1323.64 C1238.09 1320.96 1238.45 1318.27 1238.8 1315.59 C1239.15 1312.91 1239.5 1310.22 1239.84 1307.54 C1240.18 1304.86 1240.53 1302.17 1240.86 1299.49 C1241.19 1296.81 1241.51 1294.12 1241.83 1291.44 C1242.15 1288.76 1242.47 1286.08 1242.78 1283.4 C1243.09 1280.72 1243.4 1278.03 1243.7 1275.35 C1244 1272.67 1244.29 1269.98 1244.58 1267.3 C1244.87 1264.62 1245.15 1261.93 1245.43 1259.25 C1245.71 1256.57 1245.98 1253.88 1246.25 1251.2 C1246.52 1248.52 1246.77 1245.83 1247.03 1243.15 C1247.29 1240.47 1247.54 1237.79 1247.79 1235.11 C1248.04 1232.43 1248.28 1229.74 1248.51 1227.06 C1248.74 1224.38 1248.98 1221.69 1249.2 1219.01 C1249.42 1216.33 1249.64 1213.64 1249.86 1210.96 C1250.07 1208.28 1250.29 1205.59 1250.49 1202.91 C1250.69 1200.23 1250.89 1197.55 1251.08 1194.87 C1251.27 1192.19 1251.47 1189.5 1251.65 1186.82 C1251.83 1184.14 1252.01 1181.45 1252.18 1178.77 C1252.35 1176.09 1252.53 1173.4 1252.69 1170.72 C1252.85 1168.04 1253.01 1165.35 1253.16 1162.67 C1253.31 1159.99 1253.46 1157.3 1253.6 1154.62 C1253.74 1151.94 1253.88 1149.26 1254.01 1146.58 C1254.14 1143.9 1254.27 1141.21 1254.39 1138.53 C1254.51 1135.85 1254.63 1133.16 1254.74 1130.48 C1254.85 1127.8 1254.96 1125.11 1255.06 1122.43 C1255.16 1119.75 1255.26 1117.06 1255.35 1114.38 C1255.44 1111.7 1255.53 1109.01 1255.61 1106.33 C1255.69 1103.65 1255.76 1100.97 1255.83 1098.29 C1255.9 1095.61 1255.97 1092.92 1256.03 1090.24 C1256.09 1087.56 1256.15 1084.87 1256.2 1082.19 C1256.25 1079.51 1256.3 1076.82 1256.34 1074.14 C1256.38 1071.46 1256.42 1068.77 1256.45 1066.09 C1256.48 1063.41 1256.5 1060.73 1256.52 1058.05 C1256.54 1055.37 1256.56 1052.68 1256.57 1050 C1256.58 1047.32 1256.59 1044.63 1256.59 1041.95 C1256.59 1039.27 1256.59 1036.58 1256.58 1033.9 C1256.57 1031.22 1256.56 1028.53 1256.54 1025.85 C1256.52 1023.17 1256.5 1020.48 1256.47 1017.8 C1256.44 1015.12 1256.41 1012.44 1256.37 1009.76 C1256.33 1007.08 1256.3 1004.39 1256.25 1001.71 C1256.2 999.03 1256.15 996.34 1256.09 993.66 C1256.03 990.98 1255.98 988.29 1255.91 985.61 C1255.84 982.93 1255.77 980.24 1255.69 977.56 C1255.61 974.88 1255.54 972.19 1255.45 969.51 C1255.37 966.83 1255.28 964.15 1255.18 961.47 C1255.09 958.79 1254.99 956.1 1254.88 953.42 C1254.78 950.74 1254.66 948.05 1254.55 945.37 C1254.43 942.69 1254.31 940 1254.19 937.32 C1254.07 934.64 1253.94 931.95 1253.81 929.27 C1253.68 926.59 1253.54 923.91 1253.4 921.23 C1253.26 918.55 1253.11 915.86 1252.96 913.18 C1252.81 910.5 1252.65 907.81 1252.49 905.13 C1252.33 902.45 1252.16 899.76 1251.99 897.08 C1251.82 894.4 1251.65 891.71 1251.47 889.03 C1251.29 886.35 1251.1 883.66 1250.91 880.98 C1250.72 878.3 1250.54 875.62 1250.34 872.94 C1250.14 870.26 1249.94 867.57 1249.73 864.89 C1249.52 862.21 1249.31 859.52 1249.09 856.84 C1248.87 854.16 1248.65 851.47 1248.43 848.79 C1248.21 846.11 1247.97 843.42 1247.74 840.74 C1247.51 838.06 1247.27 835.38 1247.03 832.7 C1246.79 830.02 1246.53 827.33 1246.28 824.65 C1246.03 821.97 1245.77 819.28 1245.51 816.6 C1245.25 813.92 1244.99 811.23 1244.72 808.55 C1244.45 805.87 1244.17 803.18 1243.89 800.5 C1243.61 797.82 1243.33 795.13 1243.04 792.45 C1242.75 789.77 1242.47 787.09 1242.17 784.41 C1241.87 781.73 1241.57 779.04 1241.26 776.36 C1240.95 773.68 1240.65 770.99 1240.34 768.31 C1240.03 765.63 1239.7 762.94 1239.38 760.26 C1239.06 757.58 1238.73 754.89 1238.4 752.21 C1238.07 749.53 1237.73 746.84 1237.39 744.16 C1237.05 741.48 1236.71 738.8 1236.36 736.12 C1236.01 733.44 1235.66 730.75 1235.3 728.07 C1234.94 725.39 1234.58 722.7 1234.21 720.02 C1233.84 717.34 1233.47 714.65 1233.1 711.97 C1232.72 709.29 1232.34 706.6 1231.96 703.92 C1231.58 701.24 1231.19 698.56 1230.8 695.88 C1230.41 693.2 1230.01 690.51 1229.61 687.83 C1229.21 685.15 1228.81 682.46 1228.4 679.78 C1227.99 677.1 1227.58 674.41 1227.16 671.73 C1226.74 669.05 1226.33 666.36 1225.9 663.68 C1225.48 661 1225.04 658.31 1224.61 655.63 C1224.18 652.95 1223.74 650.27 1223.3 647.59 C1222.86 644.91 1222.41 642.22 1221.96 639.54 C1221.51 636.86 1221.06 634.17 1220.6 631.49 C1220.14 628.81 1219.68 626.12 1219.21 623.44 C1218.74 620.76 1218.28 618.07 1217.8 615.39 C1217.32 612.71 1216.84 610.02 1216.36 607.34 C1215.88 604.66 1215.39 601.98 1214.9 599.3 C1214.41 596.62 1213.92 593.93 1213.42 591.25 C1212.92 588.57 1212.15 584.54 1211.9 583.2 C1211.9 581.83 1211.93 577.73 1211.91 575 C1211.89 572.27 1211.86 569.54 1211.81 566.81 C1211.76 564.08 1211.69 561.34 1211.6 558.61 C1211.51 555.88 1211.4 553.15 1211.28 550.42 C1211.15 547.69 1211.01 544.95 1210.85 542.22 C1210.69 539.49 1210.5 536.76 1210.3 534.03 C1210.1 531.3 1209.87 528.56 1209.63 525.83 C1209.39 523.1 1209.12 520.36 1208.84 517.63 C1208.55 514.9 1208.25 512.17 1207.92 509.44 C1207.59 506.71 1207.24 503.97 1206.87 501.24 C1206.5 498.51 1206.1 495.78 1205.68 493.05 C1205.26 490.32 1204.82 487.58 1204.36 484.85 C1203.9 482.12 1203.41 479.39 1202.9 476.66 C1202.39 473.93 1201.86 471.19 1201.3 468.46 C1200.74 465.73 1200.15 463 1199.54 460.27 C1198.93 457.54 1198.31 454.8 1197.65 452.07 C1196.99 449.34 1196.3 446.6 1195.59 443.87 C1194.88 441.14 1194.15 438.41 1193.39 435.68 C1192.63 432.95 1191.84 430.21 1191.02 427.48 C1190.2 424.75 1189.36 422.02 1188.49 419.29 C1187.62 416.56 1186.73 413.82 1185.8 411.09 C1184.87 408.36 1183.91 405.63 1182.93 402.9 C1181.95 400.17 1180.59 396.5 1179.9 394.7 C1179.21 392.9 1179.87 394.6 1178.8 392.1 C1177.73 389.6 1175.42 383.83 1173.5 379.7 C1171.58 375.57 1169.23 371.45 1167.3 367.3 C1165.37 363.15 1163.55 358.95 1161.9 354.8 C1160.25 350.65 1158.6 345.45 1157.4 342.4 C1156.2 339.35 1155.52 338.13 1154.7 336.5 C1153.88 334.87 1153.23 333.77 1152.5 332.6 C1151.77 331.43 1151.12 330.35 1150.3 329.5 C1149.48 328.65 1148.82 328.03 1147.6 327.5 C1146.38 326.97 1144.57 326.3 1143 326.3 C1141.43 326.3 1139.43 326.97 1138.2 327.5 C1136.97 328.03 1136.37 328.65 1135.6 329.5 C1134.83 330.35 1134.28 331.52 1133.6 332.6 C1132.92 333.68 1132.17 334.37 1131.5 336 C1130.83 337.63 1130.67 339.27 1129.6 342.4 C1128.53 345.53 1126.75 350.65 1125.1 354.8 C1123.45 358.95 1121.48 363.15 1119.7 367.3 C1117.92 371.45 1116.02 375.57 1114.4 379.7 C1112.78 383.83 1110.88 389.6 1110 392.1 C1109.12 394.6 1109.78 392.91 1109.1 394.7 C1108.42 396.49 1106.92 400.11 1105.92 402.82 C1104.92 405.53 1103.97 408.24 1103.08 410.95 C1102.18 413.66 1101.35 416.36 1100.55 419.07 C1099.75 421.78 1099.01 424.48 1098.31 427.19 C1097.61 429.9 1096.96 432.61 1096.35 435.32 C1095.74 438.03 1095.17 440.73 1094.64 443.44 C1094.11 446.15 1093.63 448.85 1093.18 451.56 C1092.73 454.27 1092.32 456.98 1091.93 459.69 C1091.55 462.4 1091.19 465.1 1090.87 467.81 C1090.55 470.52 1090.26 473.23 1090 475.94 C1089.74 478.65 1089.5 481.35 1089.29 484.06 C1089.08 486.77 1088.89 489.47 1088.72 492.18 C1088.55 494.89 1088.4 497.6 1088.27 500.31 C1088.14 503.02 1088.02 505.72 1087.92 508.43 C1087.82 511.14 1087.74 513.84 1087.66 516.55 C1087.58 519.26 1087.52 521.97 1087.46 524.68 C1087.4 527.39 1087.33 531.45 1087.3 532.8 C1087.03 534.13 1086.22 538.14 1085.69 540.81 C1085.16 543.48 1084.63 546.15 1084.11 548.82 C1083.58 551.49 1083.06 554.15 1082.54 556.82 C1082.02 559.49 1081.51 562.16 1081 564.83 C1080.49 567.5 1079.99 570.17 1079.49 572.84 C1078.99 575.51 1078.49 578.18 1077.99 580.85 C1077.49 583.52 1077.01 586.19 1076.52 588.86 C1076.03 591.53 1075.56 594.19 1075.08 596.86 C1074.6 599.53 1074.13 602.2 1073.66 604.87 C1073.19 607.54 1072.72 610.21 1072.26 612.88 C1071.8 615.55 1071.34 618.22 1070.88 620.89 C1070.43 623.56 1069.98 626.23 1069.53 628.9 C1069.08 631.57 1068.64 634.24 1068.2 636.91 C1067.76 639.58 1067.33 642.24 1066.9 644.91 C1066.47 647.58 1066.04 650.25 1065.62 652.92 C1065.2 655.59 1064.77 658.26 1064.36 660.93 C1063.94 663.6 1063.54 666.27 1063.13 668.94 C1062.73 671.61 1062.33 674.28 1061.93 676.95 C1061.53 679.62 1061.13 682.28 1060.74 684.95 C1060.35 687.62 1059.97 690.29 1059.59 692.96 C1059.21 695.63 1058.83 698.3 1058.45 700.97 C1058.08 703.64 1057.7 706.31 1057.34 708.98 C1056.97 711.65 1056.62 714.32 1056.26 716.99 C1055.9 719.66 1055.55 722.32 1055.2 724.99 C1054.85 727.66 1054.51 730.33 1054.17 733 C1053.83 735.67 1053.49 738.34 1053.16 741.01 C1052.83 743.68 1052.5 746.35 1052.17 749.02 C1051.85 751.69 1051.53 754.36 1051.21 757.03 C1050.89 759.7 1050.59 762.37 1050.28 765.04 C1049.97 767.71 1049.67 770.37 1049.37 773.04 C1049.07 775.71 1048.78 778.38 1048.49 781.05 C1048.2 783.72 1047.91 786.39 1047.63 789.06 C1047.35 791.73 1047.07 794.4 1046.8 797.07 C1046.53 799.74 1046.26 802.41 1045.99 805.08 C1045.72 807.75 1045.47 810.41 1045.21 813.08 C1044.95 815.75 1044.7 818.42 1044.45 821.09 C1044.2 823.76 1043.96 826.43 1043.72 829.1 C1043.48 831.77 1043.25 834.44 1043.02 837.11 C1042.79 839.78 1042.56 842.45 1042.34 845.12 C1042.12 847.79 1041.9 850.45 1041.69 853.12 C1041.48 855.79 1041.27 858.46 1041.07 861.13 C1040.87 863.8 1040.66 866.47 1040.47 869.14 C1040.28 871.81 1040.09 874.48 1039.9 877.15 C1039.71 879.82 1039.53 882.49 1039.35 885.16 C1039.17 887.83 1039 890.49 1038.83 893.16 C1038.66 895.83 1038.5 898.5 1038.34 901.17 C1038.18 903.84 1038.02 906.51 1037.87 909.18 C1037.72 911.85 1037.57 914.52 1037.43 917.19 C1037.29 919.86 1037.15 922.53 1037.02 925.2 C1036.89 927.87 1036.76 930.54 1036.64 933.21 C1036.52 935.88 1036.39 938.54 1036.28 941.21 C1036.16 943.88 1036.06 946.55 1035.95 949.22 C1035.84 951.89 1035.74 954.56 1035.64 957.23 C1035.54 959.9 1035.46 962.57 1035.37 965.24 C1035.28 967.91 1035.2 970.58 1035.12 973.25 C1035.04 975.92 1034.96 978.58 1034.89 981.25 C1034.82 983.92 1034.76 986.59 1034.7 989.26 C1034.64 991.93 1034.58 994.6 1034.53 997.27 C1034.48 999.94 1034.43 1002.61 1034.39 1005.28 C1034.35 1007.95 1034.31 1010.62 1034.28 1013.29 C1034.25 1015.96 1034.22 1018.62 1034.2 1021.29 C1034.18 1023.96 1034.15 1026.63 1034.14 1029.3 C1034.13 1031.97 1034.12 1034.64 1034.12 1037.31 C1034.12 1039.98 1034.11 1042.65 1034.12 1045.32 C1034.12 1047.99 1034.14 1050.66 1034.15 1053.33 C1034.16 1056 1034.18 1058.67 1034.2 1061.34 C1034.22 1064.01 1034.26 1066.67 1034.29 1069.34 C1034.32 1072.01 1034.36 1074.68 1034.4 1077.35 C1034.44 1080.02 1034.49 1082.69 1034.54 1085.36 C1034.59 1088.03 1034.66 1090.7 1034.72 1093.37 C1034.78 1096.04 1034.85 1098.71 1034.92 1101.38 C1034.99 1104.05 1035.06 1106.71 1035.14 1109.38 C1035.22 1112.05 1035.31 1114.72 1035.4 1117.39 C1035.49 1120.06 1035.59 1122.73 1035.69 1125.4 C1035.79 1128.07 1035.89 1130.74 1036 1133.41 C1036.11 1136.08 1036.23 1138.75 1036.35 1141.42 C1036.47 1144.09 1036.59 1146.75 1036.72 1149.42 C1036.85 1152.09 1036.98 1154.76 1037.12 1157.43 C1037.26 1160.1 1037.41 1162.77 1037.56 1165.44 C1037.71 1168.11 1037.86 1170.78 1038.02 1173.45 C1038.18 1176.12 1038.34 1178.79 1038.51 1181.46 C1038.68 1184.13 1038.85 1186.79 1039.03 1189.46 C1039.21 1192.13 1039.39 1194.8 1039.58 1197.47 C1039.77 1200.14 1039.96 1202.81 1040.16 1205.48 C1040.36 1208.15 1040.56 1210.82 1040.77 1213.49 C1040.98 1216.16 1041.19 1218.83 1041.41 1221.5 C1041.63 1224.17 1041.85 1226.84 1042.08 1229.51 C1042.31 1232.18 1042.54 1234.84 1042.78 1237.51 C1043.02 1240.18 1043.26 1242.85 1043.51 1245.52 C1043.76 1248.19 1044.01 1250.86 1044.27 1253.53 C1044.53 1256.2 1044.79 1258.87 1045.06 1261.54 C1045.33 1264.21 1045.61 1266.88 1045.89 1269.55 C1046.17 1272.22 1046.45 1274.88 1046.74 1277.55 C1047.03 1280.22 1047.32 1282.89 1047.62 1285.56 C1047.92 1288.23 1048.22 1290.9 1048.53 1293.57 C1048.84 1296.24 1049.16 1298.91 1049.48 1301.58 C1049.8 1304.25 1050.12 1306.92 1050.45 1309.59 C1050.78 1312.26 1051.12 1314.92 1051.46 1317.59 C1051.8 1320.26 1052.14 1322.93 1052.49 1325.6 C1052.84 1328.27 1053.2 1330.94 1053.56 1333.61 C1053.92 1336.28 1054.29 1338.95 1054.66 1341.62 C1055.03 1344.29 1055.41 1346.96 1055.79 1349.63 C1056.17 1352.3 1056.56 1354.97 1056.95 1357.64 C1057.34 1360.31 1057.75 1362.97 1058.15 1365.64 C1058.55 1368.31 1058.96 1370.98 1059.37 1373.65 C1059.78 1376.32 1060.21 1378.99 1060.63 1381.66 C1061.06 1384.33 1061.49 1387 1061.92 1389.67 C1062.36 1392.34 1062.8 1395.01 1063.24 1397.68 C1063.68 1400.35 1064.13 1403.01 1064.59 1405.68 C1065.04 1408.35 1065.5 1411.02 1065.97 1413.69 C1066.44 1416.36 1066.91 1419.03 1067.39 1421.7 C1067.87 1424.37 1068.34 1427.04 1068.83 1429.71 C1069.32 1432.38 1069.81 1435.05 1070.31 1437.72 C1070.81 1440.39 1071.31 1443.05 1071.82 1445.72 C1072.33 1448.39 1072.85 1451.06 1073.37 1453.73 C1073.89 1456.4 1074.42 1459.07 1074.95 1461.74 C1075.48 1464.41 1076.01 1467.08 1076.55 1469.75 C1077.09 1472.42 1077.65 1475.09 1078.2 1477.76 C1078.75 1480.43 1079.31 1483.09 1079.87 1485.76 C1080.43 1488.43 1081 1491.1 1081.58 1493.77 C1082.15 1496.44 1082.73 1499.11 1083.32 1501.78 C1083.9 1504.45 1084.49 1507.12 1085.09 1509.79 C1085.69 1512.46 1086.29 1515.13 1086.9 1517.8 C1087.51 1520.47 1088.12 1523.14 1088.74 1525.81 C1089.36 1528.48 1089.98 1531.14 1090.61 1533.81 C1091.24 1536.48 1091.87 1539.15 1092.51 1541.82 C1093.15 1544.49 1093.8 1547.16 1094.45 1549.83 C1095.1 1552.5 1095.76 1555.17 1096.42 1557.84 C1097.08 1560.51 1097.76 1563.18 1098.43 1565.85 C1099.11 1568.52 1099.79 1571.18 1100.47 1573.85 C1101.15 1576.52 1101.84 1579.19 1102.54 1581.86 C1103.24 1584.53 1103.94 1587.2 1104.65 1589.87 C1105.36 1592.54 1106.07 1595.21 1106.79 1597.88 C1107.51 1600.55 1108.23 1603.22 1108.96 1605.89 C1109.69 1608.56 1110.43 1611.22 1111.17 1613.89 C1111.91 1616.56 1112.67 1619.23 1113.42 1621.9 C1114.17 1624.57 1114.93 1627.24 1115.69 1629.91 C1116.45 1632.58 1117.22 1635.25 1118 1637.92 C1118.78 1640.59 1119.56 1643.26 1120.35 1645.93 C1121.14 1648.6 1121.93 1651.27 1122.73 1653.94 C1123.53 1656.61 1124.33 1659.27 1125.14 1661.94 C1125.95 1664.61 1126.77 1667.28 1127.59 1669.95 C1128.41 1672.62 1129.24 1675.29 1130.07 1677.96 C1130.9 1680.63 1131.74 1683.3 1132.59 1685.97 C1133.43 1688.64 1134.28 1691.31 1135.14 1693.98 C1136 1696.65 1136.86 1699.31 1137.73 1701.98 C1138.6 1704.65 1139.48 1707.32 1140.36 1709.99 C1141.24 1712.66 1142.56 1716.66 1143 1718 Z" fill="none" stroke="#ff0000" stroke-width="5" stroke-linejoin="round"/>
<path d="M1143 1718 C1143.26 1716.66 1144.02 1712.62 1144.53 1709.94 C1145.04 1707.26 1145.55 1704.58 1146.05 1701.89 C1146.55 1699.21 1147.04 1696.51 1147.54 1693.83 C1148.04 1691.14 1148.54 1688.46 1149.03 1685.78 C1149.52 1683.1 1150.01 1680.4 1150.5 1677.72 C1150.99 1675.04 1151.47 1672.36 1151.95 1669.67 C1152.43 1666.99 1152.91 1664.29 1153.39 1661.61 C1153.87 1658.92 1154.34 1656.24 1154.81 1653.56 C1155.28 1650.88 1155.75 1648.18 1156.22 1645.5 C1156.69 1642.82 1157.15 1640.13 1157.61 1637.45 C1158.07 1634.77 1158.53 1632.08 1158.99 1629.39 C1159.45 1626.71 1159.91 1624.02 1160.36 1621.34 C1160.81 1618.65 1161.26 1615.96 1161.71 1613.28 C1162.16 1610.6 1162.6 1607.91 1163.04 1605.23 C1163.48 1602.55 1163.92 1599.86 1164.36 1597.17 C1164.8 1594.49 1165.23 1591.8 1165.66 1589.12 C1166.09 1586.43 1166.52 1583.74 1166.95 1581.06 C1167.38 1578.38 1167.81 1575.69 1168.23 1573.01 C1168.65 1570.33 1169.06 1567.63 1169.48 1564.95 C1169.9 1562.27 1170.32 1559.59 1170.73 1556.9 C1171.14 1554.22 1171.55 1551.52 1171.96 1548.84 C1172.37 1546.15 1172.77 1543.47 1173.17 1540.79 C1173.57 1538.11 1173.97 1535.41 1174.37 1532.73 C1174.77 1530.05 1175.16 1527.37 1175.55 1524.68 C1175.94 1522 1176.33 1519.3 1176.71 1516.62 C1177.1 1513.93 1177.48 1511.25 1177.86 1508.57 C1178.24 1505.88 1178.62 1503.19 1179 1500.51 C1179.38 1497.83 1179.75 1495.14 1180.12 1492.46 C1180.49 1489.78 1180.87 1487.09 1181.23 1484.4 C1181.6 1481.72 1181.95 1479.03 1182.31 1476.35 C1182.67 1473.66 1183.04 1470.97 1183.39 1468.29 C1183.75 1465.61 1184.09 1462.92 1184.44 1460.24 C1184.79 1457.56 1185.14 1454.87 1185.49 1452.18 C1185.84 1449.5 1186.17 1446.82 1186.51 1444.13 C1186.85 1441.45 1187.18 1438.75 1187.52 1436.07 C1187.86 1433.38 1188.19 1430.7 1188.52 1428.02 C1188.85 1425.34 1189.18 1422.64 1189.5 1419.96 C1189.82 1417.28 1190.14 1414.6 1190.46 1411.91 C1190.78 1409.23 1191.1 1406.53 1191.41 1403.85 C1191.72 1401.16 1192.03 1398.48 1192.34 1395.8 C1192.65 1393.12 1192.95 1390.42 1193.25 1387.74 C1193.55 1385.06 1193.85 1382.38 1194.15 1379.69 C1194.45 1377.01 1194.75 1374.32 1195.04 1371.63 C1195.33 1368.94 1195.62 1366.25 1195.9 1363.57 C1196.19 1360.88 1196.47 1358.2 1196.75 1355.52 C1197.03 1352.84 1197.31 1350.14 1197.59 1347.46 C1197.87 1344.78 1198.14 1342.1 1198.41 1339.41 C1198.68 1336.73 1198.95 1334.03 1199.21 1331.35 C1199.47 1328.66 1199.74 1325.98 1200 1323.3 C1200.26 1320.62 1200.52 1317.92 1200.77 1315.24 C1201.02 1312.56 1201.27 1309.88 1201.52 1307.19 C1201.77 1304.51 1202.02 1301.82 1202.26 1299.13 C1202.5 1296.45 1202.74 1293.76 1202.98 1291.08 C1203.22 1288.39 1203.46 1285.7 1203.69 1283.02 C1203.92 1280.34 1204.14 1277.65 1204.37 1274.97 C1204.6 1272.29 1204.83 1269.6 1205.05 1266.91 C1205.27 1264.23 1205.49 1261.54 1205.7 1258.86 C1205.91 1256.17 1206.13 1253.48 1206.34 1250.8 C1206.55 1248.12 1206.76 1245.43 1206.96 1242.75 C1207.16 1240.07 1207.37 1237.38 1207.57 1234.69 C1207.77 1232.01 1207.97 1229.33 1208.16 1226.64 C1208.35 1223.96 1208.54 1221.26 1208.73 1218.58 C1208.92 1215.89 1209.1 1213.21 1209.28 1210.53 C1209.46 1207.85 1209.64 1205.15 1209.82 1202.47 C1210 1199.79 1210.18 1197.11 1210.35 1194.42 C1210.52 1191.74 1210.68 1189.04 1210.85 1186.36 C1211.01 1183.67 1211.18 1180.99 1211.34 1178.31 C1211.5 1175.62 1211.66 1172.93 1211.81 1170.25 C1211.96 1167.57 1212.11 1164.88 1212.26 1162.2 C1212.41 1159.52 1212.56 1156.83 1212.7 1154.14 C1212.84 1151.46 1212.98 1148.77 1213.12 1146.09 C1213.26 1143.4 1213.4 1140.71 1213.53 1138.03 C1213.66 1135.35 1213.79 1132.66 1213.91 1129.98 C1214.04 1127.3 1214.16 1124.61 1214.28 1121.92 C1214.4 1119.24 1214.52 1116.55 1214.63 1113.87 C1214.75 1111.18 1214.86 1108.49 1214.97 1105.81 C1215.08 1103.12 1215.18 1100.44 1215.28 1097.76 C1215.38 1095.08 1215.48 1092.38 1215.58 1089.7 C1215.68 1087.02 1215.78 1084.34 1215.87 1081.65 C1215.96 1078.97 1216.05 1076.27 1216.13 1073.59 C1216.22 1070.9 1216.3 1068.22 1216.38 1065.54 C1216.46 1062.86 1216.54 1060.16 1216.61 1057.48 C1216.68 1054.8 1216.75 1052.12 1216.82 1049.43 C1216.89 1046.75 1216.96 1044.06 1217.02 1041.37 C1217.08 1038.68 1217.14 1035.99 1217.2 1033.31 C1217.26 1030.62 1217.31 1027.94 1217.36 1025.26 C1217.41 1022.58 1217.46 1019.88 1217.5 1017.2 C1217.54 1014.52 1217.58 1011.84 1217.62 1009.15 C1217.66 1006.46 1217.7 1003.78 1217.73 1001.09 C1217.76 998.4 1217.79 995.72 1217.82 993.04 C1217.85 990.36 1217.87 987.66 1217.89 984.98 C1217.91 982.3 1217.93 979.62 1217.95 976.93 C1217.97 974.24 1217.97 971.55 1217.98 968.87 C1217.99 966.19 1218 963.51 1218 960.82 C1218 958.13 1218 955.44 1218 952.76 C1218 950.08 1217.99 947.39 1217.98 944.71 C1217.97 942.03 1217.97 939.34 1217.95 936.65 C1217.93 933.96 1217.91 931.29 1217.89 928.6 C1217.87 925.91 1217.85 923.22 1217.82 920.54 C1217.79 917.86 1217.76 915.17 1217.73 912.49 C1217.7 909.81 1217.66 907.12 1217.62 904.43 C1217.58 901.74 1217.55 899.06 1217.5 896.38 C1217.45 893.7 1217.4 891.01 1217.35 888.32 C1217.3 885.63 1217.25 882.95 1217.19 880.27 C1217.13 877.59 1217.07 874.89 1217.01 872.21 C1216.95 869.53 1216.88 866.85 1216.81 864.16 C1216.74 861.47 1216.67 858.79 1216.59 856.1 C1216.51 853.41 1216.43 850.73 1216.35 848.05 C1216.27 845.37 1216.19 842.67 1216.1 839.99 C1216.01 837.31 1215.91 834.62 1215.82 831.94 C1215.72 829.26 1215.63 826.57 1215.53 823.88 C1215.43 821.19 1215.33 818.52 1215.22 815.83 C1215.11 813.14 1215 810.45 1214.89 807.77 C1214.78 805.09 1214.66 802.4 1214.54 799.72 C1214.42 797.04 1214.31 794.35 1214.18 791.66 C1214.06 788.97 1213.92 786.3 1213.79 783.61 C1213.66 780.92 1213.53 778.23 1213.39 775.55 C1213.25 772.87 1213.12 770.18 1212.97 767.5 C1212.83 764.82 1212.67 762.12 1212.52 759.44 C1212.37 756.76 1212.22 754.08 1212.06 751.39 C1211.9 748.7 1211.74 746.02 1211.58 743.33 C1211.42 740.64 1211.26 737.96 1211.09 735.28 C1210.92 732.6 1210.75 729.9 1210.57 727.22 C1210.39 724.54 1210.21 721.86 1210.03 719.17 C1209.85 716.48 1209.67 713.8 1209.48 711.11 C1209.29 708.42 1209.1 705.74 1208.9 703.06 C1208.7 700.38 1208.4 696.34 1208.3 695 C1208.26 693.65 1208.15 689.59 1208.07 686.88 C1207.99 684.17 1207.9 681.48 1207.81 678.77 C1207.72 676.06 1207.62 673.36 1207.51 670.65 C1207.4 667.94 1207.3 665.25 1207.18 662.54 C1207.06 659.83 1206.94 657.13 1206.81 654.42 C1206.68 651.71 1206.55 649 1206.41 646.3 C1206.27 643.6 1206.12 640.89 1205.97 638.19 C1205.82 635.49 1205.65 632.78 1205.49 630.07 C1205.33 627.36 1205.16 624.66 1204.98 621.95 C1204.8 619.25 1204.61 616.55 1204.42 613.84 C1204.23 611.13 1204.03 608.43 1203.83 605.72 C1203.62 603.01 1203.41 600.32 1203.19 597.61 C1202.97 594.9 1202.74 592.2 1202.51 589.49 C1202.28 586.78 1202.03 584.08 1201.78 581.37 C1201.53 578.66 1201.28 575.97 1201.01 573.26 C1200.74 570.55 1200.47 567.85 1200.19 565.14 C1199.91 562.43 1199.62 559.73 1199.33 557.02 C1199.03 554.31 1198.73 551.62 1198.42 548.91 C1198.11 546.2 1197.78 543.5 1197.45 540.79 C1197.12 538.08 1196.79 535.38 1196.44 532.68 C1196.1 529.97 1195.74 527.27 1195.38 524.56 C1195.02 521.85 1194.65 519.15 1194.27 516.44 C1193.89 513.74 1193.5 511.03 1193.1 508.33 C1192.7 505.62 1192.3 502.92 1191.88 500.21 C1191.46 497.5 1191.03 494.79 1190.6 492.09 C1190.16 489.38 1189.72 486.69 1189.27 483.98 C1188.82 481.28 1188.35 478.56 1187.88 475.86 C1187.41 473.16 1186.92 470.45 1186.43 467.75 C1185.94 465.05 1185.43 462.34 1184.92 459.63 C1184.41 456.92 1183.88 454.21 1183.35 451.51 C1182.82 448.81 1182.27 446.1 1181.72 443.4 C1181.17 440.69 1180.6 437.99 1180.03 435.28 C1179.46 432.57 1178.88 429.87 1178.28 427.16 C1177.68 424.46 1177.08 421.75 1176.46 419.05 C1175.84 416.35 1175.21 413.63 1174.57 410.93 C1173.93 408.23 1173.28 405.52 1172.62 402.82 C1171.96 400.12 1171.07 396.49 1170.6 394.7 C1170.13 392.91 1170.55 394.6 1169.8 392.1 C1169.05 389.6 1167.28 383.83 1166.1 379.7 C1164.92 375.57 1163.9 371.45 1162.7 367.3 C1161.5 363.15 1160.08 358.95 1158.9 354.8 C1157.72 350.65 1156.43 345.53 1155.6 342.4 C1154.77 339.27 1154.48 337.63 1153.9 336 C1153.32 334.37 1152.73 333.68 1152.1 332.6 C1151.47 331.52 1150.85 330.35 1150.1 329.5 C1149.35 328.65 1148.78 328.03 1147.6 327.5 C1146.42 326.97 1144.53 326.3 1143 326.3 C1141.47 326.3 1139.58 326.97 1138.4 327.5 C1137.22 328.03 1136.63 328.65 1135.9 329.5 C1135.17 330.35 1134.58 331.52 1134 332.6 C1133.42 333.68 1133.05 334.37 1132.4 336 C1131.75 337.63 1131.2 339.27 1130.1 342.4 C1129 345.53 1127.35 350.65 1125.8 354.8 C1124.25 358.95 1122.47 363.15 1120.8 367.3 C1119.13 371.45 1117.35 375.57 1115.8 379.7 C1114.25 383.83 1112.37 389.6 1111.5 392.1 C1110.63 394.6 1111.12 392.93 1110.6 394.7 C1110.08 396.47 1109.12 400.05 1108.39 402.73 C1107.67 405.41 1106.95 408.08 1106.25 410.76 C1105.55 413.44 1104.85 416.11 1104.16 418.79 C1103.47 421.47 1102.78 424.14 1102.11 426.82 C1101.43 429.5 1100.77 432.18 1100.11 434.86 C1099.45 437.54 1098.81 440.21 1098.16 442.89 C1097.52 445.57 1096.87 448.24 1096.24 450.92 C1095.61 453.6 1094.98 456.27 1094.37 458.95 C1093.75 461.63 1093.15 464.3 1092.55 466.98 C1091.95 469.66 1091.35 472.33 1090.76 475.01 C1090.17 477.69 1089.59 480.36 1089.02 483.04 C1088.45 485.72 1087.88 488.39 1087.32 491.07 C1086.76 493.75 1086.21 496.43 1085.66 499.11 C1085.11 501.79 1084.57 504.46 1084.03 507.14 C1083.49 509.82 1082.97 512.49 1082.45 515.17 C1081.93 517.85 1081.41 520.52 1080.9 523.2 C1080.39 525.88 1079.89 528.55 1079.39 531.23 C1078.89 533.91 1078.4 536.58 1077.92 539.26 C1077.44 541.94 1076.96 544.61 1076.49 547.29 C1076.02 549.97 1075.55 552.64 1075.09 555.32 C1074.63 558 1074.17 560.67 1073.72 563.35 C1073.27 566.03 1072.83 568.71 1072.39 571.39 C1071.95 574.07 1071.52 576.74 1071.09 579.42 C1070.66 582.1 1070.24 584.77 1069.82 587.45 C1069.4 590.13 1068.99 592.8 1068.59 595.48 C1068.18 598.16 1067.79 600.83 1067.39 603.51 C1067 606.19 1066.61 608.86 1066.22 611.54 C1065.84 614.22 1065.45 616.89 1065.08 619.57 C1064.7 622.25 1064.34 624.92 1063.97 627.6 C1063.61 630.28 1063.25 632.95 1062.89 635.63 C1062.53 638.31 1062.18 640.99 1061.83 643.67 C1061.48 646.35 1061.14 649.02 1060.8 651.7 C1060.46 654.38 1060.13 657.05 1059.8 659.73 C1059.47 662.41 1059.15 665.08 1058.83 667.76 C1058.51 670.44 1058.19 673.11 1057.88 675.79 C1057.57 678.47 1057.26 681.14 1056.96 683.82 C1056.66 686.5 1056.36 689.17 1056.06 691.85 C1055.76 694.53 1055.48 697.2 1055.19 699.88 C1054.9 702.56 1054.61 705.24 1054.33 707.92 C1054.05 710.6 1053.77 713.27 1053.5 715.95 C1053.23 718.63 1052.95 721.3 1052.69 723.98 C1052.43 726.66 1052.17 729.33 1051.91 732.01 C1051.65 734.69 1051.39 737.36 1051.14 740.04 C1050.89 742.72 1050.64 745.39 1050.39 748.07 C1050.14 750.75 1049.9 753.42 1049.66 756.1 C1049.42 758.78 1049.18 761.45 1048.95 764.13 C1048.72 766.81 1048.49 769.48 1048.26 772.16 C1048.03 774.84 1047.8 777.52 1047.58 780.2 C1047.36 782.88 1047.14 785.55 1046.92 788.23 C1046.7 790.91 1046.49 793.58 1046.28 796.26 C1046.07 798.94 1045.86 801.61 1045.65 804.29 C1045.44 806.97 1045.24 809.64 1045.04 812.32 C1044.84 815 1044.64 817.67 1044.44 820.35 C1044.24 823.03 1044.04 825.7 1043.85 828.38 C1043.65 831.06 1043.46 833.73 1043.27 836.41 C1043.08 839.09 1042.89 841.76 1042.71 844.44 C1042.53 847.12 1042.34 849.8 1042.16 852.48 C1041.98 855.16 1041.79 857.83 1041.61 860.51 C1041.43 863.19 1041.25 865.86 1041.08 868.54 C1040.9 871.22 1040.73 873.89 1040.56 876.57 C1040.39 879.25 1040.22 881.92 1040.05 884.6 C1039.88 887.28 1039.71 889.95 1039.55 892.63 C1039.38 895.31 1039.22 897.98 1039.06 900.66 C1038.9 903.34 1038.74 906.01 1038.58 908.69 C1038.42 911.37 1038.26 914.05 1038.11 916.73 C1037.95 919.41 1037.8 922.08 1037.65 924.76 C1037.5 927.44 1037.35 930.11 1037.2 932.79 C1037.05 935.47 1036.91 938.14 1036.77 940.82 C1036.63 943.5 1036.48 946.17 1036.34 948.85 C1036.2 951.53 1036.07 954.2 1035.93 956.88 C1035.8 959.56 1035.66 962.23 1035.53 964.91 C1035.4 967.59 1035.27 970.26 1035.14 972.94 C1035.01 975.62 1034.88 978.29 1034.76 980.97 C1034.63 983.65 1034.51 986.33 1034.39 989.01 C1034.27 991.69 1034.16 994.36 1034.04 997.04 C1033.92 999.72 1033.8 1002.39 1033.69 1005.07 C1033.58 1007.75 1033.47 1010.42 1033.36 1013.1 C1033.25 1015.78 1033.14 1018.45 1033.04 1021.13 C1032.93 1023.81 1032.83 1026.48 1032.73 1029.16 C1032.63 1031.84 1032.54 1034.51 1032.44 1037.19 C1032.34 1039.87 1032.24 1042.54 1032.15 1045.22 C1032.06 1047.9 1031.97 1050.58 1031.88 1053.26 C1031.79 1055.94 1031.71 1058.61 1031.63 1061.29 C1031.55 1063.97 1031.46 1066.64 1031.38 1069.32 C1031.3 1072 1031.23 1074.67 1031.15 1077.35 C1031.08 1080.03 1031 1082.7 1030.93 1085.38 C1030.86 1088.06 1030.79 1090.73 1030.72 1093.41 C1030.65 1096.09 1030.59 1098.76 1030.53 1101.44 C1030.47 1104.12 1030.41 1106.79 1030.35 1109.47 C1030.29 1112.15 1030.23 1114.82 1030.18 1117.5 C1030.13 1120.18 1030.08 1122.86 1030.03 1125.54 C1029.98 1128.22 1029.94 1130.89 1029.89 1133.57 C1029.85 1136.25 1029.8 1138.92 1029.76 1141.6 C1029.72 1144.28 1029.69 1146.95 1029.65 1149.63 C1029.62 1152.31 1029.58 1154.98 1029.55 1157.66 C1029.52 1160.34 1029.49 1163.01 1029.46 1165.69 C1029.43 1168.37 1029.41 1171.04 1029.39 1173.72 C1029.37 1176.4 1029.35 1179.07 1029.33 1181.75 C1029.31 1184.43 1029.3 1187.1 1029.29 1189.78 C1029.28 1192.46 1029.27 1195.14 1029.26 1197.82 C1029.25 1200.5 1029.24 1203.17 1029.24 1205.85 C1029.24 1208.53 1029.24 1211.2 1029.24 1213.88 C1029.24 1216.56 1029.24 1219.23 1029.25 1221.91 C1029.26 1224.59 1029.27 1227.26 1029.28 1229.94 C1029.29 1232.62 1029.3 1235.29 1029.32 1237.97 C1029.34 1240.65 1029.36 1243.32 1029.38 1246 C1029.4 1248.68 1029.42 1251.35 1029.45 1254.03 C1029.48 1256.71 1029.51 1259.39 1029.54 1262.07 C1029.57 1264.75 1029.6 1267.42 1029.64 1270.1 C1029.68 1272.78 1029.72 1275.45 1029.76 1278.13 C1029.8 1280.81 1029.84 1283.48 1029.89 1286.16 C1029.94 1288.84 1029.99 1291.51 1030.04 1294.19 C1030.09 1296.87 1030.14 1299.54 1030.2 1302.22 C1030.26 1304.9 1030.32 1307.57 1030.38 1310.25 C1030.44 1312.93 1030.51 1315.6 1030.58 1318.28 C1030.65 1320.96 1030.72 1323.63 1030.79 1326.31 C1030.86 1328.99 1030.93 1331.67 1031.01 1334.35 C1031.09 1337.03 1031.18 1339.7 1031.26 1342.38 C1031.34 1345.06 1031.42 1347.73 1031.51 1350.41 C1031.6 1353.09 1031.69 1355.76 1031.79 1358.44 C1031.88 1361.12 1031.98 1363.79 1032.08 1366.47 C1032.18 1369.15 1032.29 1371.82 1032.39 1374.5 C1032.5 1377.18 1032.6 1379.85 1032.71 1382.53 C1032.82 1385.21 1032.93 1387.88 1033.05 1390.56 C1033.17 1393.24 1033.29 1395.91 1033.41 1398.59 C1033.53 1401.27 1033.65 1403.95 1033.78 1406.63 C1033.91 1409.31 1034.04 1411.98 1034.17 1414.66 C1034.3 1417.34 1034.44 1420.01 1034.58 1422.69 C1034.72 1425.37 1034.86 1428.04 1035 1430.72 C1035.14 1433.4 1035.29 1436.07 1035.44 1438.75 C1035.59 1441.43 1035.74 1444.1 1035.9 1446.78 C1036.06 1449.46 1036.22 1452.13 1036.38 1454.81 C1036.54 1457.49 1036.7 1460.16 1036.87 1462.84 C1037.04 1465.52 1037.21 1468.2 1037.38 1470.88 C1037.55 1473.56 1037.73 1476.23 1037.91 1478.91 C1038.09 1481.59 1038.27 1484.26 1038.45 1486.94 C1038.63 1489.62 1038.83 1492.29 1039.02 1494.97 C1039.21 1497.65 1039.5 1501.66 1039.6 1503 C1040.16 1504.38 1041.85 1508.51 1042.98 1511.27 C1044.12 1514.03 1045.26 1516.78 1046.41 1519.54 C1047.56 1522.3 1048.72 1525.05 1049.89 1527.81 C1051.06 1530.57 1052.23 1533.32 1053.41 1536.08 C1054.59 1538.84 1055.78 1541.59 1056.98 1544.35 C1058.18 1547.11 1059.38 1549.86 1060.59 1552.62 C1061.8 1555.38 1063.02 1558.12 1064.25 1560.88 C1065.48 1563.64 1066.72 1566.39 1067.96 1569.15 C1069.2 1571.91 1070.45 1574.66 1071.71 1577.42 C1072.97 1580.18 1074.24 1582.93 1075.51 1585.69 C1076.78 1588.45 1078.07 1591.2 1079.36 1593.96 C1080.65 1596.72 1081.95 1599.47 1083.26 1602.23 C1084.57 1604.99 1085.89 1607.74 1087.21 1610.5 C1088.53 1613.26 1089.86 1616.01 1091.2 1618.77 C1092.54 1621.53 1093.88 1624.28 1095.24 1627.04 C1096.6 1629.8 1097.97 1632.55 1099.34 1635.31 C1100.71 1638.07 1102.09 1640.82 1103.48 1643.58 C1104.87 1646.34 1106.27 1649.09 1107.67 1651.85 C1109.08 1654.61 1110.49 1657.36 1111.91 1660.12 C1113.33 1662.88 1114.76 1665.62 1116.2 1668.38 C1117.64 1671.14 1119.09 1673.89 1120.54 1676.65 C1121.99 1679.41 1123.46 1682.16 1124.93 1684.92 C1126.4 1687.68 1127.88 1690.43 1129.37 1693.19 C1130.86 1695.95 1132.35 1698.7 1133.86 1701.46 C1135.37 1704.22 1136.89 1706.97 1138.41 1709.73 C1139.93 1712.49 1142.24 1716.62 1143 1718 Z" fill="none" stroke="#0000ff" stroke-width="5" stroke-linejoin="round"/>
</g>
</g>
<rect x="15" y="15" width="2257" height="2087.5" fill="none" stroke="#000" stroke-width="4"/>
<g fill="#000">
<circle cx="139.10" cy="73.70" r="7.50" fill="none" stroke="#000" stroke-width="3.8"/>
<text transform="matrix(0.24727 0 0 0.26972 44.29 102.06)" font-family="Liberation Sans" font-size="200">105</text>
<circle cx="111.00" cy="314.20" r="7.50" fill="none" stroke="#000" stroke-width="3.8"/>
<text transform="matrix(0.25340 0 0 0.27606 42.32 343.45)" font-family="Liberation Sans" font-size="200">90</text>
<circle cx="111.10" cy="588.90" r="7.50" fill="none" stroke="#000" stroke-width="3.8"/>
<text transform="matrix(0.25196 0 0 0.27357 42.98 617.25)" font-family="Liberation Sans" font-size="200">75</text>
<circle cx="111.10" cy="906.10" r="7.50" fill="none" stroke="#000" stroke-width="3.8"/>
<text transform="matrix(0.25317 0 0 0.27676 42.47 935.45)" font-family="Liberation Sans" font-size="200">60</text>
<circle cx="111.10" cy="1339.90" r="7.50" fill="none" stroke="#000" stroke-width="3.8"/>
<text transform="matrix(0.25333 0 0 0.27357 42.69 1368.25)" font-family="Liberation Sans" font-size="200">45</text>
<circle cx="123.00" cy="2036.10" r="7.50" fill="none" stroke="#000" stroke-width="3.8"/>
<text transform="matrix(0.25072 0 0 0.27676 54.89 2065.45)" font-family="Liberation Sans" font-size="200">30</text>
<circle cx="661.20" cy="2036.70" r="7.50" fill="none" stroke="#000" stroke-width="3.8"/>
<text transform="matrix(0.24372 0 0 0.27500 594.84 2065.25)" font-family="Liberation Sans" font-size="200">15</text>
<circle cx="1155.90" cy="2036.40" r="7.50" fill="none" stroke="#000" stroke-width="3.8"/>
<text transform="matrix(0.24688 0 0 0.27465 1116.03 2065.45)" font-family="Liberation Sans" font-size="200">0</text>
<circle cx="1678.30" cy="2036.70" r="7.50" fill="none" stroke="#000" stroke-width="3.8"/>
<text transform="matrix(0.24523 0 0 0.27500 1611.62 2065.25)" font-family="Liberation Sans" font-size="200">15</text>
<circle cx="2216.40" cy="2036.10" r="7.50" fill="none" stroke="#000" stroke-width="3.8"/>
<text transform="matrix(0.25362 0 0 0.27676 2147.67 2065.45)" font-family="Liberation Sans" font-size="200">30</text>
<circle cx="2228.30" cy="73.70" r="7.50" fill="none" stroke="#000" stroke-width="3.8"/>
<text transform="matrix(0.24887 0 0 0.26972 2132.97 102.06)" font-family="Liberation Sans" font-size="200">105</text>
<circle cx="2228.30" cy="314.20" r="7.50" fill="none" stroke="#000" stroke-width="3.8"/>
<text transform="matrix(0.25485 0 0 0.27394 2159.31 343.15)" font-family="Liberation Sans" font-size="200">90</text>
<circle cx="2228.30" cy="588.90" r="7.50" fill="none" stroke="#000" stroke-width="3.8"/>
<text transform="matrix(0.25490 0 0 0.27357 2159.55 617.25)" font-family="Liberation Sans" font-size="200">75</text>
<circle cx="2228.30" cy="906.10" r="7.50" fill="none" stroke="#000" stroke-width="3.8"/>
<text transform="matrix(0.25610 0 0 0.27676 2159.04 935.45)" font-family="Liberation Sans" font-size="200">60</text>
<circle cx="2228.30" cy="1339.70" r="7.50" fill="none" stroke="#000" stroke-width="3.8"/>
<text transform="matrix(0.25476 0 0 0.27429 2159.58 1368.15)" font-family="Liberation Sans" font-size="200">45</text>
<text transform="matrix(0.25035 0 0 0.27183 1085.20 1061.36)" font-family="Liberation Sans" font-size="200">3200</text>
<text transform="matrix(0.25104 0 0 0.26993 1084.90 1417.46)" font-family="Liberation Sans" font-size="200">4800</text>
<text transform="matrix(0.32298 0 0 0.32568 42.72 2188.62)" font-family="Liberation Sans" font-size="200">cd/klm</text>
<text transform="matrix(0.24754 0 0 0.27133 194.22 2250.86)" font-family="Liberation Sans" font-size="200">C0 - C180</text>
<text transform="matrix(0.24846 0 0 0.27676 649.42 2251.55)" font-family="Liberation Sans" font-size="200">C90 - C270</text>
<text transform="matrix(0.33196 0 0 0.22462 2013.68 2173.84)" font-family="Liberation Sans" font-size="200">=</text>
<text transform="matrix(0.31224 0 0 0.33099 2075.32 2189.34)" font-family="Liberation Sans" font-size="200">101%</text>
</g>
<g fill="none" stroke="#000" stroke-width="5">
<path d="M1964.8,2154.8 C1966,2150.4 1968.3,2149.2 1970.6,2149.2 C1972.6,2149.2 1973.6,2150.6 1973.6,2153.2 L1973.6,2175.7" stroke-width="4.2"/>
<path d="M1974.6,2156.2 C1978.3,2150.6 1981.8,2149.5 1985.4,2149.5 C1989.6,2149.5 1991.6,2151.8 1991.6,2156.5 L1991.6,2181 C1991.6,2184.5 1991.8,2186.8 1992.1,2188.7"/>
</g>
<line x1="35" y1="2226.3" x2="181.2" y2="2226.3" stroke="#ff0000" stroke-width="5"/>
<line x1="490.1" y1="2226.2" x2="636.9" y2="2226.2" stroke="#0000ff" stroke-width="5"/>
</svg></body></html>
